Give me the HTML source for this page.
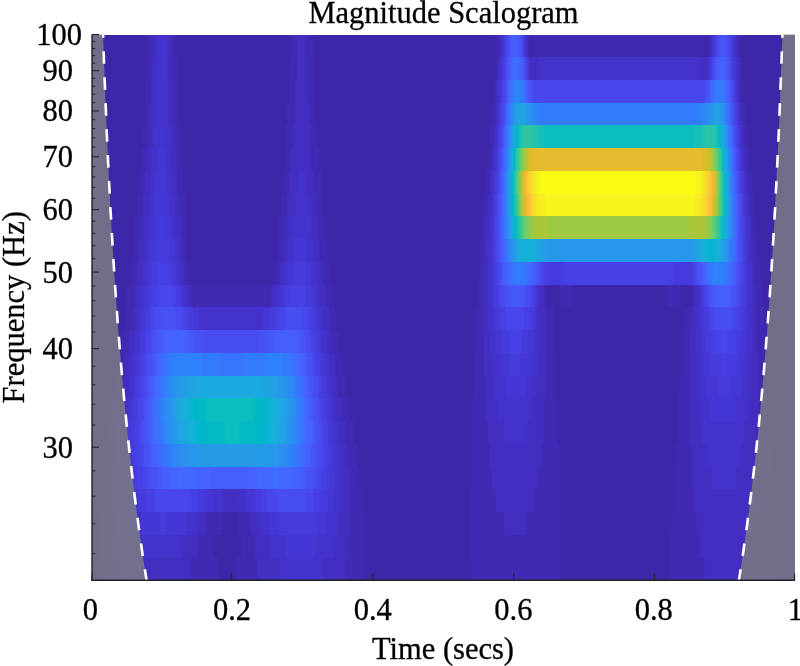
<!DOCTYPE html>
<html><head><meta charset="utf-8"><title>Magnitude Scalogram</title>
<style>
html,body{margin:0;padding:0;background:#fff;}
body{width:800px;height:666px;position:relative;overflow:hidden;font-family:"Liberation Serif","Times New Roman",serif;}
#plot{position:absolute;left:92.0px;top:34.5px;width:703.0px;height:545.8px;overflow:hidden;background:#3e26a8;}
.r{position:absolute;left:0;width:100%;}
svg{position:absolute;left:0;top:0;}
svg text{font-family:"Liberation Serif","Times New Roman",serif;font-size:30.5px;fill:#000;stroke:#000;stroke-width:0.3px;}
svg line{stroke:#222226;stroke-width:1.1;}
</style></head><body>
<div id="plot">
<div class="r" style="top:0.00px;height:23.04px;background:linear-gradient(90deg,#3e26a8,#3e26a8,#3e26a8,#3e26a8,#3e26a8,#3e26a8,#3e26a8,#3e26a8,#3e26a8,#3e26a8,#3e26a8,#3e26a8,#3e26a8,#3e26a8,#3e26a8,#3e26a8,#3e26a8,#3e26a8,#3e26a8,#3e26a8,#3e26a8,#3e26a8,#3e26a8,#3e26a8,#3e26a8,#3e26a8,#3e26a8,#3e26a8,#402ab4,#402ab4,#402ab4,#422ec0,#422ec0,#4332cb,#4332cb,#4332cb,#4332cb,#4332cb,#422ec0,#422ec0,#402ab4,#402ab4,#3e26a8,#3e26a8,#3e26a8,#3e26a8,#3e26a8,#3e26a8,#3e26a8,#3e26a8,#3e26a8,#3e26a8,#3e26a8,#3e26a8,#3e26a8,#3e26a8,#3e26a8,#3e26a8,#3e26a8,#3e26a8,#3e26a8,#3e26a8,#3e26a8,#3e26a8,#3e26a8,#3e26a8,#3e26a8,#3e26a8,#3e26a8,#3e26a8,#3e26a8,#3e26a8,#3e26a8,#3e26a8,#3e26a8,#3e26a8,#3e26a8,#3e26a8,#3e26a8,#3e26a8,#3e26a8,#3e26a8,#3e26a8,#3e26a8,#3e26a8,#3e26a8,#3e26a8,#3e26a8,#3e26a8,#3e26a8,#3e26a8,#3e26a8,#3e26a8,#3e26a8,#3e26a8,#3e26a8,#3e26a8,#3e26a8,#3e26a8,#3e26a8,#402ab4,#402ab4,#402ab4,#422ec0,#422ec0,#422ec0,#422ec0,#402ab4,#402ab4,#402ab4,#402ab4,#3e26a8,#3e26a8,#3e26a8,#3e26a8,#3e26a8,#3e26a8,#3e26a8,#3e26a8,#3e26a8,#3e26a8,#3e26a8,#3e26a8,#3e26a8,#3e26a8,#3e26a8,#3e26a8,#3e26a8,#3e26a8,#3e26a8,#3e26a8,#3e26a8,#3e26a8,#3e26a8,#3e26a8,#3e26a8,#3e26a8,#3e26a8,#3e26a8,#3e26a8,#3e26a8,#3e26a8,#3e26a8,#3e26a8,#3e26a8,#3e26a8,#3e26a8,#3e26a8,#3e26a8,#3e26a8,#3e26a8,#3e26a8,#3e26a8,#3e26a8,#3e26a8,#3e26a8,#3e26a8,#3e26a8,#3e26a8,#3e26a8,#3e26a8,#3e26a8,#3e26a8,#3e26a8,#3e26a8,#3e26a8,#3e26a8,#3e26a8,#3e26a8,#3e26a8,#3e26a8,#3e26a8,#3e26a8,#3e26a8,#3e26a8,#3e26a8,#3e26a8,#3e26a8,#3e26a8,#3e26a8,#3e26a8,#3e26a8,#3e26a8,#3e26a8,#3e26a8,#3e26a8,#3e26a8,#3e26a8,#3e26a8,#3e26a8,#3e26a8,#3e26a8,#3e26a8,#3e26a8,#3e26a8,#3e26a8,#3e26a8,#3e26a8,#3e26a8,#3e26a8,#3e26a8,#3e26a8,#402ab4,#402ab4,#422ec0,#4332cb,#463cde,#4747eb,#484df0,#4758f8,#465efb,#465efb,#465efb,#4758f8,#4852f4,#4747eb,#4537d5,#4332cb,#402ab4,#3e26a8,#3e26a8,#402ab4,#402ab4,#402ab4,#402ab4,#402ab4,#402ab4,#402ab4,#402ab4,#402ab4,#402ab4,#402ab4,#402ab4,#402ab4,#402ab4,#402ab4,#402ab4,#402ab4,#402ab4,#402ab4,#402ab4,#402ab4,#402ab4,#402ab4,#402ab4,#402ab4,#402ab4,#402ab4,#402ab4,#402ab4,#402ab4,#402ab4,#402ab4,#402ab4,#402ab4,#402ab4,#402ab4,#402ab4,#402ab4,#402ab4,#402ab4,#402ab4,#402ab4,#402ab4,#402ab4,#402ab4,#402ab4,#402ab4,#402ab4,#402ab4,#402ab4,#402ab4,#402ab4,#402ab4,#402ab4,#402ab4,#402ab4,#402ab4,#402ab4,#402ab4,#402ab4,#402ab4,#402ab4,#402ab4,#402ab4,#402ab4,#402ab4,#402ab4,#402ab4,#402ab4,#402ab4,#402ab4,#402ab4,#402ab4,#402ab4,#402ab4,#402ab4,#402ab4,#402ab4,#402ab4,#402ab4,#402ab4,#402ab4,#402ab4,#402ab4,#402ab4,#3e26a8,#3e26a8,#402ab4,#422ec0,#4537d5,#463cde,#4747eb,#484df0,#4852f4,#4758f8,#4852f4,#484df0,#4747eb,#4741e5,#4537d5,#4332cb,#422ec0,#402ab4,#3e26a8,#3e26a8,#3e26a8,#3e26a8,#3e26a8,#3e26a8,#3e26a8,#3e26a8,#3e26a8,#3e26a8,#3e26a8,#3e26a8,#3e26a8,#3e26a8,#3e26a8,#3e26a8,#3e26a8,#3e26a8,#3e26a8,#3e26a8,#3e26a8,#3e26a8,#3e26a8,#3e26a8,#3e26a8,#3e26a8,#3e26a8,#3e26a8)"></div>
<div class="r" style="top:22.74px;height:23.04px;background:linear-gradient(90deg,#3e26a8,#3e26a8,#3e26a8,#3e26a8,#3e26a8,#3e26a8,#3e26a8,#3e26a8,#3e26a8,#3e26a8,#3e26a8,#3e26a8,#3e26a8,#3e26a8,#3e26a8,#3e26a8,#3e26a8,#3e26a8,#3e26a8,#3e26a8,#3e26a8,#3e26a8,#3e26a8,#3e26a8,#3e26a8,#3e26a8,#3e26a8,#3e26a8,#402ab4,#402ab4,#422ec0,#422ec0,#4332cb,#4332cb,#4332cb,#4332cb,#4332cb,#4332cb,#422ec0,#422ec0,#402ab4,#402ab4,#402ab4,#3e26a8,#3e26a8,#3e26a8,#3e26a8,#3e26a8,#3e26a8,#3e26a8,#3e26a8,#3e26a8,#3e26a8,#3e26a8,#3e26a8,#3e26a8,#3e26a8,#3e26a8,#3e26a8,#3e26a8,#3e26a8,#3e26a8,#3e26a8,#3e26a8,#3e26a8,#3e26a8,#3e26a8,#3e26a8,#3e26a8,#3e26a8,#3e26a8,#3e26a8,#3e26a8,#3e26a8,#3e26a8,#3e26a8,#3e26a8,#3e26a8,#3e26a8,#3e26a8,#3e26a8,#3e26a8,#3e26a8,#3e26a8,#3e26a8,#3e26a8,#3e26a8,#3e26a8,#3e26a8,#3e26a8,#3e26a8,#3e26a8,#3e26a8,#3e26a8,#3e26a8,#3e26a8,#3e26a8,#3e26a8,#3e26a8,#402ab4,#402ab4,#402ab4,#402ab4,#422ec0,#422ec0,#422ec0,#422ec0,#422ec0,#402ab4,#402ab4,#402ab4,#3e26a8,#3e26a8,#3e26a8,#3e26a8,#3e26a8,#3e26a8,#3e26a8,#3e26a8,#3e26a8,#3e26a8,#3e26a8,#3e26a8,#3e26a8,#3e26a8,#3e26a8,#3e26a8,#3e26a8,#3e26a8,#3e26a8,#3e26a8,#3e26a8,#3e26a8,#3e26a8,#3e26a8,#3e26a8,#3e26a8,#3e26a8,#3e26a8,#3e26a8,#3e26a8,#3e26a8,#3e26a8,#3e26a8,#3e26a8,#3e26a8,#3e26a8,#3e26a8,#3e26a8,#3e26a8,#3e26a8,#3e26a8,#3e26a8,#3e26a8,#3e26a8,#3e26a8,#3e26a8,#3e26a8,#3e26a8,#3e26a8,#3e26a8,#3e26a8,#3e26a8,#3e26a8,#3e26a8,#3e26a8,#3e26a8,#3e26a8,#3e26a8,#3e26a8,#3e26a8,#3e26a8,#3e26a8,#3e26a8,#3e26a8,#3e26a8,#3e26a8,#3e26a8,#3e26a8,#3e26a8,#3e26a8,#3e26a8,#3e26a8,#3e26a8,#3e26a8,#3e26a8,#3e26a8,#3e26a8,#3e26a8,#3e26a8,#3e26a8,#3e26a8,#3e26a8,#3e26a8,#3e26a8,#3e26a8,#3e26a8,#3e26a8,#3e26a8,#3e26a8,#3e26a8,#3e26a8,#402ab4,#422ec0,#4332cb,#4537d5,#4741e5,#484df0,#4758f8,#465efb,#4269fe,#3e6fff,#3e6fff,#4269fe,#4563fd,#4758f8,#484df0,#4741e5,#4537d5,#422ec0,#422ec0,#422ec0,#422ec0,#4332cb,#4332cb,#4332cb,#4332cb,#4332cb,#4332cb,#4332cb,#4332cb,#4332cb,#4332cb,#4332cb,#4332cb,#4332cb,#4332cb,#4332cb,#4332cb,#4332cb,#4332cb,#4332cb,#4332cb,#4332cb,#4332cb,#4332cb,#4332cb,#4332cb,#4332cb,#4332cb,#4332cb,#4332cb,#4332cb,#4332cb,#4332cb,#4332cb,#4332cb,#4332cb,#4332cb,#4332cb,#4332cb,#4332cb,#4332cb,#4332cb,#4332cb,#4332cb,#4332cb,#4332cb,#4332cb,#4332cb,#4332cb,#4332cb,#4332cb,#4332cb,#4332cb,#4332cb,#4332cb,#4332cb,#4332cb,#4332cb,#4332cb,#4332cb,#4332cb,#4332cb,#4332cb,#4332cb,#4332cb,#4332cb,#4332cb,#4332cb,#4332cb,#4332cb,#4332cb,#4332cb,#4332cb,#4332cb,#4332cb,#4332cb,#4332cb,#4332cb,#4332cb,#4332cb,#4332cb,#4332cb,#422ec0,#422ec0,#422ec0,#422ec0,#4537d5,#463cde,#4747eb,#4852f4,#4758f8,#4563fd,#4563fd,#4563fd,#465efb,#4758f8,#4852f4,#4747eb,#463cde,#4537d5,#4332cb,#422ec0,#402ab4,#3e26a8,#3e26a8,#3e26a8,#3e26a8,#3e26a8,#3e26a8,#3e26a8,#3e26a8,#3e26a8,#3e26a8,#3e26a8,#3e26a8,#3e26a8,#3e26a8,#3e26a8,#3e26a8,#3e26a8,#3e26a8,#3e26a8,#3e26a8,#3e26a8,#3e26a8,#3e26a8,#3e26a8,#3e26a8,#3e26a8,#3e26a8)"></div>
<div class="r" style="top:45.48px;height:23.04px;background:linear-gradient(90deg,#3e26a8,#3e26a8,#3e26a8,#3e26a8,#3e26a8,#3e26a8,#3e26a8,#3e26a8,#3e26a8,#3e26a8,#3e26a8,#3e26a8,#3e26a8,#3e26a8,#3e26a8,#3e26a8,#3e26a8,#3e26a8,#3e26a8,#3e26a8,#3e26a8,#3e26a8,#3e26a8,#3e26a8,#3e26a8,#3e26a8,#3e26a8,#402ab4,#402ab4,#402ab4,#422ec0,#422ec0,#4332cb,#4332cb,#4332cb,#4332cb,#4332cb,#4332cb,#4332cb,#422ec0,#422ec0,#402ab4,#402ab4,#3e26a8,#3e26a8,#3e26a8,#3e26a8,#3e26a8,#3e26a8,#3e26a8,#3e26a8,#3e26a8,#3e26a8,#3e26a8,#3e26a8,#3e26a8,#3e26a8,#3e26a8,#3e26a8,#3e26a8,#3e26a8,#3e26a8,#3e26a8,#3e26a8,#3e26a8,#3e26a8,#3e26a8,#3e26a8,#3e26a8,#3e26a8,#3e26a8,#3e26a8,#3e26a8,#3e26a8,#3e26a8,#3e26a8,#3e26a8,#3e26a8,#3e26a8,#3e26a8,#3e26a8,#3e26a8,#3e26a8,#3e26a8,#3e26a8,#3e26a8,#3e26a8,#3e26a8,#3e26a8,#3e26a8,#3e26a8,#3e26a8,#3e26a8,#3e26a8,#3e26a8,#3e26a8,#3e26a8,#3e26a8,#3e26a8,#402ab4,#402ab4,#402ab4,#422ec0,#422ec0,#422ec0,#422ec0,#422ec0,#422ec0,#402ab4,#402ab4,#402ab4,#402ab4,#3e26a8,#3e26a8,#3e26a8,#3e26a8,#3e26a8,#3e26a8,#3e26a8,#3e26a8,#3e26a8,#3e26a8,#3e26a8,#3e26a8,#3e26a8,#3e26a8,#3e26a8,#3e26a8,#3e26a8,#3e26a8,#3e26a8,#3e26a8,#3e26a8,#3e26a8,#3e26a8,#3e26a8,#3e26a8,#3e26a8,#3e26a8,#3e26a8,#3e26a8,#3e26a8,#3e26a8,#3e26a8,#3e26a8,#3e26a8,#3e26a8,#3e26a8,#3e26a8,#3e26a8,#3e26a8,#3e26a8,#3e26a8,#3e26a8,#3e26a8,#3e26a8,#3e26a8,#3e26a8,#3e26a8,#3e26a8,#3e26a8,#3e26a8,#3e26a8,#3e26a8,#3e26a8,#3e26a8,#3e26a8,#3e26a8,#3e26a8,#3e26a8,#3e26a8,#3e26a8,#3e26a8,#3e26a8,#3e26a8,#3e26a8,#3e26a8,#3e26a8,#3e26a8,#3e26a8,#3e26a8,#3e26a8,#3e26a8,#3e26a8,#3e26a8,#3e26a8,#3e26a8,#3e26a8,#3e26a8,#3e26a8,#3e26a8,#3e26a8,#3e26a8,#3e26a8,#3e26a8,#3e26a8,#3e26a8,#3e26a8,#3e26a8,#3e26a8,#3e26a8,#402ab4,#422ec0,#4332cb,#4537d5,#4741e5,#4747eb,#4852f4,#4563fd,#3e6fff,#327cfc,#2f81fa,#2e87f7,#2e87f7,#2f81fa,#327cfc,#3e6fff,#4563fd,#4758f8,#4852f4,#484df0,#4747eb,#4747eb,#4747eb,#4747eb,#4747eb,#4747eb,#4747eb,#4747eb,#4747eb,#4747eb,#4747eb,#4747eb,#4747eb,#4747eb,#4747eb,#4747eb,#4747eb,#4747eb,#4747eb,#4747eb,#4747eb,#4747eb,#4747eb,#4747eb,#4747eb,#4747eb,#4747eb,#4747eb,#4747eb,#4747eb,#4747eb,#4747eb,#4747eb,#4747eb,#4747eb,#4747eb,#4747eb,#4747eb,#4747eb,#4747eb,#4747eb,#4747eb,#4747eb,#4747eb,#4747eb,#4747eb,#4747eb,#4747eb,#4747eb,#4747eb,#4747eb,#4747eb,#4747eb,#4747eb,#4747eb,#4747eb,#4747eb,#4747eb,#4747eb,#4747eb,#4747eb,#4747eb,#4747eb,#4747eb,#4747eb,#4747eb,#4747eb,#4747eb,#4747eb,#4747eb,#4747eb,#4747eb,#4747eb,#4747eb,#4747eb,#4747eb,#4747eb,#4747eb,#4747eb,#4747eb,#4747eb,#4747eb,#4747eb,#4747eb,#4747eb,#484df0,#4852f4,#4758f8,#4563fd,#4269fe,#3875fe,#327cfc,#327cfc,#327cfc,#327cfc,#3e6fff,#4269fe,#465efb,#4852f4,#4747eb,#463cde,#4537d5,#422ec0,#402ab4,#402ab4,#3e26a8,#3e26a8,#3e26a8,#3e26a8,#3e26a8,#3e26a8,#3e26a8,#3e26a8,#3e26a8,#3e26a8,#3e26a8,#3e26a8,#3e26a8,#3e26a8,#3e26a8,#3e26a8,#3e26a8,#3e26a8,#3e26a8,#3e26a8,#3e26a8,#3e26a8,#3e26a8,#3e26a8,#3e26a8,#3e26a8)"></div>
<div class="r" style="top:68.22px;height:23.04px;background:linear-gradient(90deg,#3e26a8,#3e26a8,#3e26a8,#3e26a8,#3e26a8,#3e26a8,#3e26a8,#3e26a8,#3e26a8,#3e26a8,#3e26a8,#3e26a8,#3e26a8,#3e26a8,#3e26a8,#3e26a8,#3e26a8,#3e26a8,#3e26a8,#3e26a8,#3e26a8,#3e26a8,#3e26a8,#3e26a8,#3e26a8,#3e26a8,#3e26a8,#402ab4,#402ab4,#422ec0,#422ec0,#422ec0,#4332cb,#4332cb,#4332cb,#4332cb,#4332cb,#4332cb,#4332cb,#422ec0,#422ec0,#402ab4,#402ab4,#402ab4,#3e26a8,#3e26a8,#3e26a8,#3e26a8,#3e26a8,#3e26a8,#3e26a8,#3e26a8,#3e26a8,#3e26a8,#3e26a8,#3e26a8,#3e26a8,#3e26a8,#3e26a8,#3e26a8,#3e26a8,#3e26a8,#3e26a8,#3e26a8,#3e26a8,#3e26a8,#3e26a8,#3e26a8,#3e26a8,#3e26a8,#3e26a8,#3e26a8,#3e26a8,#3e26a8,#3e26a8,#3e26a8,#3e26a8,#3e26a8,#3e26a8,#3e26a8,#3e26a8,#3e26a8,#3e26a8,#3e26a8,#3e26a8,#3e26a8,#3e26a8,#3e26a8,#3e26a8,#3e26a8,#3e26a8,#3e26a8,#3e26a8,#3e26a8,#3e26a8,#3e26a8,#3e26a8,#3e26a8,#402ab4,#402ab4,#402ab4,#402ab4,#422ec0,#422ec0,#422ec0,#422ec0,#422ec0,#422ec0,#422ec0,#402ab4,#402ab4,#402ab4,#3e26a8,#3e26a8,#3e26a8,#3e26a8,#3e26a8,#3e26a8,#3e26a8,#3e26a8,#3e26a8,#3e26a8,#3e26a8,#3e26a8,#3e26a8,#3e26a8,#3e26a8,#3e26a8,#3e26a8,#3e26a8,#3e26a8,#3e26a8,#3e26a8,#3e26a8,#3e26a8,#3e26a8,#3e26a8,#3e26a8,#3e26a8,#3e26a8,#3e26a8,#3e26a8,#3e26a8,#3e26a8,#3e26a8,#3e26a8,#3e26a8,#3e26a8,#3e26a8,#3e26a8,#3e26a8,#3e26a8,#3e26a8,#3e26a8,#3e26a8,#3e26a8,#3e26a8,#3e26a8,#3e26a8,#3e26a8,#3e26a8,#3e26a8,#3e26a8,#3e26a8,#3e26a8,#3e26a8,#3e26a8,#3e26a8,#3e26a8,#3e26a8,#3e26a8,#3e26a8,#3e26a8,#3e26a8,#3e26a8,#3e26a8,#3e26a8,#3e26a8,#3e26a8,#3e26a8,#3e26a8,#3e26a8,#3e26a8,#3e26a8,#3e26a8,#3e26a8,#3e26a8,#3e26a8,#3e26a8,#3e26a8,#3e26a8,#3e26a8,#3e26a8,#3e26a8,#3e26a8,#3e26a8,#3e26a8,#3e26a8,#3e26a8,#3e26a8,#402ab4,#402ab4,#422ec0,#4537d5,#463cde,#4747eb,#4852f4,#465efb,#3e6fff,#2f81fa,#2d8cf3,#2797eb,#23a0e5,#20a5e3,#20a5e3,#20a5e3,#23a0e5,#259be8,#2797eb,#2b91ef,#2d8cf3,#2e87f7,#2f81fa,#2f81fa,#327cfc,#327cfc,#327cfc,#327cfc,#327cfc,#327cfc,#327cfc,#327cfc,#327cfc,#327cfc,#327cfc,#327cfc,#327cfc,#327cfc,#327cfc,#327cfc,#327cfc,#327cfc,#327cfc,#327cfc,#327cfc,#327cfc,#327cfc,#327cfc,#327cfc,#327cfc,#327cfc,#327cfc,#327cfc,#327cfc,#327cfc,#327cfc,#327cfc,#327cfc,#327cfc,#327cfc,#327cfc,#327cfc,#327cfc,#327cfc,#327cfc,#327cfc,#327cfc,#327cfc,#327cfc,#327cfc,#327cfc,#327cfc,#327cfc,#327cfc,#327cfc,#327cfc,#327cfc,#327cfc,#327cfc,#327cfc,#327cfc,#327cfc,#327cfc,#327cfc,#327cfc,#327cfc,#327cfc,#327cfc,#327cfc,#327cfc,#327cfc,#327cfc,#327cfc,#327cfc,#327cfc,#327cfc,#327cfc,#327cfc,#327cfc,#327cfc,#327cfc,#327cfc,#327cfc,#2f81fa,#2f81fa,#2e87f7,#2e87f7,#2d8cf3,#2b91ef,#2797eb,#259be8,#23a0e5,#23a0e5,#23a0e5,#259be8,#2b91ef,#2e87f7,#327cfc,#4269fe,#465efb,#4852f4,#4747eb,#463cde,#4332cb,#422ec0,#402ab4,#402ab4,#3e26a8,#3e26a8,#3e26a8,#3e26a8,#3e26a8,#3e26a8,#3e26a8,#3e26a8,#3e26a8,#3e26a8,#3e26a8,#3e26a8,#3e26a8,#3e26a8,#3e26a8,#3e26a8,#3e26a8,#3e26a8,#3e26a8,#3e26a8,#3e26a8,#3e26a8,#3e26a8,#3e26a8,#3e26a8)"></div>
<div class="r" style="top:90.97px;height:23.04px;background:linear-gradient(90deg,#3e26a8,#3e26a8,#3e26a8,#3e26a8,#3e26a8,#3e26a8,#3e26a8,#3e26a8,#3e26a8,#3e26a8,#3e26a8,#3e26a8,#3e26a8,#3e26a8,#3e26a8,#3e26a8,#3e26a8,#3e26a8,#3e26a8,#3e26a8,#3e26a8,#3e26a8,#3e26a8,#3e26a8,#3e26a8,#3e26a8,#402ab4,#402ab4,#402ab4,#422ec0,#422ec0,#4332cb,#4332cb,#4332cb,#4332cb,#4537d5,#4332cb,#4332cb,#4332cb,#4332cb,#422ec0,#422ec0,#402ab4,#402ab4,#402ab4,#3e26a8,#3e26a8,#3e26a8,#3e26a8,#3e26a8,#3e26a8,#3e26a8,#3e26a8,#3e26a8,#3e26a8,#3e26a8,#3e26a8,#3e26a8,#3e26a8,#3e26a8,#3e26a8,#3e26a8,#3e26a8,#3e26a8,#3e26a8,#3e26a8,#3e26a8,#3e26a8,#3e26a8,#3e26a8,#3e26a8,#3e26a8,#3e26a8,#3e26a8,#3e26a8,#3e26a8,#3e26a8,#3e26a8,#3e26a8,#3e26a8,#3e26a8,#3e26a8,#3e26a8,#3e26a8,#3e26a8,#3e26a8,#3e26a8,#3e26a8,#3e26a8,#3e26a8,#3e26a8,#3e26a8,#3e26a8,#3e26a8,#3e26a8,#3e26a8,#3e26a8,#402ab4,#402ab4,#402ab4,#402ab4,#422ec0,#422ec0,#422ec0,#422ec0,#422ec0,#422ec0,#422ec0,#422ec0,#422ec0,#402ab4,#402ab4,#402ab4,#3e26a8,#3e26a8,#3e26a8,#3e26a8,#3e26a8,#3e26a8,#3e26a8,#3e26a8,#3e26a8,#3e26a8,#3e26a8,#3e26a8,#3e26a8,#3e26a8,#3e26a8,#3e26a8,#3e26a8,#3e26a8,#3e26a8,#3e26a8,#3e26a8,#3e26a8,#3e26a8,#3e26a8,#3e26a8,#3e26a8,#3e26a8,#3e26a8,#3e26a8,#3e26a8,#3e26a8,#3e26a8,#3e26a8,#3e26a8,#3e26a8,#3e26a8,#3e26a8,#3e26a8,#3e26a8,#3e26a8,#3e26a8,#3e26a8,#3e26a8,#3e26a8,#3e26a8,#3e26a8,#3e26a8,#3e26a8,#3e26a8,#3e26a8,#3e26a8,#3e26a8,#3e26a8,#3e26a8,#3e26a8,#3e26a8,#3e26a8,#3e26a8,#3e26a8,#3e26a8,#3e26a8,#3e26a8,#3e26a8,#3e26a8,#3e26a8,#3e26a8,#3e26a8,#3e26a8,#3e26a8,#3e26a8,#3e26a8,#3e26a8,#3e26a8,#3e26a8,#3e26a8,#3e26a8,#3e26a8,#3e26a8,#3e26a8,#3e26a8,#3e26a8,#3e26a8,#3e26a8,#3e26a8,#3e26a8,#3e26a8,#402ab4,#402ab4,#422ec0,#4332cb,#463cde,#4741e5,#484df0,#465efb,#3e6fff,#2f81fa,#2b91ef,#23a0e5,#18addb,#08b5d0,#0bbdbd,#19bfb6,#2cc4a7,#2cc4a7,#31c69f,#31c69f,#2cc4a7,#2cc4a7,#24c1ae,#24c1ae,#19bfb6,#19bfb6,#19bfb6,#0bbdbd,#0bbdbd,#0bbdbd,#0bbdbd,#0bbdbd,#0bbdbd,#0bbdbd,#0bbdbd,#0bbdbd,#0bbdbd,#0bbdbd,#0bbdbd,#0bbdbd,#0bbdbd,#0bbdbd,#0bbdbd,#0bbdbd,#0bbdbd,#0bbdbd,#0bbdbd,#0bbdbd,#0bbdbd,#0bbdbd,#0bbdbd,#0bbdbd,#0bbdbd,#0bbdbd,#0bbdbd,#0bbdbd,#0bbdbd,#0bbdbd,#0bbdbd,#0bbdbd,#0bbdbd,#0bbdbd,#0bbdbd,#0bbdbd,#0bbdbd,#0bbdbd,#0bbdbd,#0bbdbd,#0bbdbd,#0bbdbd,#0bbdbd,#0bbdbd,#0bbdbd,#0bbdbd,#0bbdbd,#0bbdbd,#0bbdbd,#0bbdbd,#0bbdbd,#0bbdbd,#0bbdbd,#0bbdbd,#0bbdbd,#0bbdbd,#0bbdbd,#0bbdbd,#0bbdbd,#0bbdbd,#0bbdbd,#0bbdbd,#0bbdbd,#0bbdbd,#0bbdbd,#0bbdbd,#0bbdbd,#0bbdbd,#0bbdbd,#0bbdbd,#0bbdbd,#0bbdbd,#0bbdbd,#0bbdbd,#19bfb6,#19bfb6,#19bfb6,#19bfb6,#24c1ae,#24c1ae,#2cc4a7,#2cc4a7,#2cc4a7,#2cc4a7,#24c1ae,#19bfb6,#02bac3,#08b5d0,#1ca9df,#259be8,#2d8cf3,#327cfc,#3e6fff,#465efb,#484df0,#4741e5,#463cde,#4332cb,#422ec0,#402ab4,#402ab4,#3e26a8,#3e26a8,#3e26a8,#3e26a8,#3e26a8,#3e26a8,#3e26a8,#3e26a8,#3e26a8,#3e26a8,#3e26a8,#3e26a8,#3e26a8,#3e26a8,#3e26a8,#3e26a8,#3e26a8,#3e26a8,#3e26a8,#3e26a8,#3e26a8,#3e26a8,#3e26a8,#3e26a8)"></div>
<div class="r" style="top:113.71px;height:23.04px;background:linear-gradient(90deg,#3e26a8,#3e26a8,#3e26a8,#3e26a8,#3e26a8,#3e26a8,#3e26a8,#3e26a8,#3e26a8,#3e26a8,#3e26a8,#3e26a8,#3e26a8,#3e26a8,#3e26a8,#3e26a8,#3e26a8,#3e26a8,#3e26a8,#3e26a8,#3e26a8,#3e26a8,#3e26a8,#3e26a8,#3e26a8,#402ab4,#402ab4,#402ab4,#422ec0,#422ec0,#4332cb,#4332cb,#4332cb,#4537d5,#4537d5,#4537d5,#4537d5,#4332cb,#4332cb,#4332cb,#422ec0,#422ec0,#422ec0,#402ab4,#402ab4,#3e26a8,#3e26a8,#3e26a8,#3e26a8,#3e26a8,#3e26a8,#3e26a8,#3e26a8,#3e26a8,#3e26a8,#3e26a8,#3e26a8,#3e26a8,#3e26a8,#3e26a8,#3e26a8,#3e26a8,#3e26a8,#3e26a8,#3e26a8,#3e26a8,#3e26a8,#3e26a8,#3e26a8,#3e26a8,#3e26a8,#3e26a8,#3e26a8,#3e26a8,#3e26a8,#3e26a8,#3e26a8,#3e26a8,#3e26a8,#3e26a8,#3e26a8,#3e26a8,#3e26a8,#3e26a8,#3e26a8,#3e26a8,#3e26a8,#3e26a8,#3e26a8,#3e26a8,#3e26a8,#3e26a8,#3e26a8,#3e26a8,#3e26a8,#3e26a8,#3e26a8,#402ab4,#402ab4,#402ab4,#422ec0,#422ec0,#422ec0,#422ec0,#422ec0,#422ec0,#422ec0,#422ec0,#422ec0,#422ec0,#402ab4,#402ab4,#402ab4,#402ab4,#3e26a8,#3e26a8,#3e26a8,#3e26a8,#3e26a8,#3e26a8,#3e26a8,#3e26a8,#3e26a8,#3e26a8,#3e26a8,#3e26a8,#3e26a8,#3e26a8,#3e26a8,#3e26a8,#3e26a8,#3e26a8,#3e26a8,#3e26a8,#3e26a8,#3e26a8,#3e26a8,#3e26a8,#3e26a8,#3e26a8,#3e26a8,#3e26a8,#3e26a8,#3e26a8,#3e26a8,#3e26a8,#3e26a8,#3e26a8,#3e26a8,#3e26a8,#3e26a8,#3e26a8,#3e26a8,#3e26a8,#3e26a8,#3e26a8,#3e26a8,#3e26a8,#3e26a8,#3e26a8,#3e26a8,#3e26a8,#3e26a8,#3e26a8,#3e26a8,#3e26a8,#3e26a8,#3e26a8,#3e26a8,#3e26a8,#3e26a8,#3e26a8,#3e26a8,#3e26a8,#3e26a8,#3e26a8,#3e26a8,#3e26a8,#3e26a8,#3e26a8,#3e26a8,#3e26a8,#3e26a8,#3e26a8,#3e26a8,#3e26a8,#3e26a8,#3e26a8,#3e26a8,#3e26a8,#3e26a8,#3e26a8,#3e26a8,#3e26a8,#3e26a8,#3e26a8,#3e26a8,#3e26a8,#402ab4,#402ab4,#422ec0,#4332cb,#4537d5,#4741e5,#484df0,#4758f8,#4269fe,#327cfc,#2d8cf3,#23a0e5,#18addb,#02bac3,#2cc4a7,#3fca8e,#64cd6f,#81cc59,#9dc943,#b9c431,#d1bf27,#dcbd29,#dcbd29,#e6bb2d,#e6bb2d,#e6bb2d,#e6bb2d,#e6bb2d,#e6bb2d,#e6bb2d,#e6bb2d,#e6bb2d,#e6bb2d,#e6bb2d,#e6bb2d,#e6bb2d,#e6bb2d,#e6bb2d,#e6bb2d,#e6bb2d,#e6bb2d,#e6bb2d,#e6bb2d,#e6bb2d,#e6bb2d,#e6bb2d,#e6bb2d,#e6bb2d,#e6bb2d,#e6bb2d,#e6bb2d,#e6bb2d,#e6bb2d,#e6bb2d,#e6bb2d,#e6bb2d,#e6bb2d,#e6bb2d,#e6bb2d,#e6bb2d,#e6bb2d,#e6bb2d,#e6bb2d,#e6bb2d,#e6bb2d,#e6bb2d,#e6bb2d,#e6bb2d,#e6bb2d,#e6bb2d,#e6bb2d,#e6bb2d,#e6bb2d,#e6bb2d,#e6bb2d,#e6bb2d,#e6bb2d,#e6bb2d,#e6bb2d,#e6bb2d,#e6bb2d,#e6bb2d,#e6bb2d,#e6bb2d,#e6bb2d,#e6bb2d,#e6bb2d,#e6bb2d,#e6bb2d,#e6bb2d,#e6bb2d,#e6bb2d,#e6bb2d,#e6bb2d,#e6bb2d,#e6bb2d,#e6bb2d,#e6bb2d,#e6bb2d,#e6bb2d,#e6bb2d,#e6bb2d,#e6bb2d,#e6bb2d,#e6bb2d,#e6bb2d,#e6bb2d,#dcbd29,#dcbd29,#d1bf27,#c5c22a,#b9c431,#9dc943,#81cc59,#64cd6f,#3fca8e,#2cc4a7,#02bac3,#12b1d6,#23a0e5,#2d8cf3,#327cfc,#4269fe,#4758f8,#484df0,#4741e5,#4537d5,#4332cb,#422ec0,#402ab4,#402ab4,#3e26a8,#3e26a8,#3e26a8,#3e26a8,#3e26a8,#3e26a8,#3e26a8,#3e26a8,#3e26a8,#3e26a8,#3e26a8,#3e26a8,#3e26a8,#3e26a8,#3e26a8,#3e26a8,#3e26a8,#3e26a8,#3e26a8,#3e26a8,#3e26a8,#3e26a8,#3e26a8)"></div>
<div class="r" style="top:136.45px;height:23.04px;background:linear-gradient(90deg,#3e26a8,#3e26a8,#3e26a8,#3e26a8,#3e26a8,#3e26a8,#3e26a8,#3e26a8,#3e26a8,#3e26a8,#3e26a8,#3e26a8,#3e26a8,#3e26a8,#3e26a8,#3e26a8,#3e26a8,#3e26a8,#3e26a8,#3e26a8,#3e26a8,#3e26a8,#3e26a8,#3e26a8,#402ab4,#402ab4,#402ab4,#422ec0,#422ec0,#422ec0,#4332cb,#4332cb,#4537d5,#4537d5,#4537d5,#4537d5,#4537d5,#4537d5,#4332cb,#4332cb,#4332cb,#422ec0,#422ec0,#402ab4,#402ab4,#402ab4,#3e26a8,#3e26a8,#3e26a8,#3e26a8,#3e26a8,#3e26a8,#3e26a8,#3e26a8,#3e26a8,#3e26a8,#3e26a8,#3e26a8,#3e26a8,#3e26a8,#3e26a8,#3e26a8,#3e26a8,#3e26a8,#3e26a8,#3e26a8,#3e26a8,#3e26a8,#3e26a8,#3e26a8,#3e26a8,#3e26a8,#3e26a8,#3e26a8,#3e26a8,#3e26a8,#3e26a8,#3e26a8,#3e26a8,#3e26a8,#3e26a8,#3e26a8,#3e26a8,#3e26a8,#3e26a8,#3e26a8,#3e26a8,#3e26a8,#3e26a8,#3e26a8,#3e26a8,#3e26a8,#3e26a8,#3e26a8,#3e26a8,#3e26a8,#402ab4,#402ab4,#402ab4,#422ec0,#422ec0,#422ec0,#422ec0,#4332cb,#4332cb,#4332cb,#4332cb,#422ec0,#422ec0,#422ec0,#422ec0,#402ab4,#402ab4,#402ab4,#402ab4,#3e26a8,#3e26a8,#3e26a8,#3e26a8,#3e26a8,#3e26a8,#3e26a8,#3e26a8,#3e26a8,#3e26a8,#3e26a8,#3e26a8,#3e26a8,#3e26a8,#3e26a8,#3e26a8,#3e26a8,#3e26a8,#3e26a8,#3e26a8,#3e26a8,#3e26a8,#3e26a8,#3e26a8,#3e26a8,#3e26a8,#3e26a8,#3e26a8,#3e26a8,#3e26a8,#3e26a8,#3e26a8,#3e26a8,#3e26a8,#3e26a8,#3e26a8,#3e26a8,#3e26a8,#3e26a8,#3e26a8,#3e26a8,#3e26a8,#3e26a8,#3e26a8,#3e26a8,#3e26a8,#3e26a8,#3e26a8,#3e26a8,#3e26a8,#3e26a8,#3e26a8,#3e26a8,#3e26a8,#3e26a8,#3e26a8,#3e26a8,#3e26a8,#3e26a8,#3e26a8,#3e26a8,#3e26a8,#3e26a8,#3e26a8,#3e26a8,#3e26a8,#3e26a8,#3e26a8,#3e26a8,#3e26a8,#3e26a8,#3e26a8,#3e26a8,#3e26a8,#3e26a8,#3e26a8,#3e26a8,#3e26a8,#3e26a8,#3e26a8,#3e26a8,#3e26a8,#402ab4,#402ab4,#422ec0,#4332cb,#4537d5,#463cde,#4747eb,#4852f4,#4563fd,#3875fe,#2e87f7,#2797eb,#1ca9df,#01b8ca,#24c1ae,#3fca8e,#64cd6f,#9dc943,#c5c22a,#e6bb2d,#febe3c,#fec934,#fad62d,#f5e327,#f5e924,#f6ef20,#f7f51b,#f7f51b,#f9fb15,#f9fb15,#f9fb15,#f9fb15,#f9fb15,#f9fb15,#f9fb15,#f9fb15,#f9fb15,#f9fb15,#f9fb15,#f9fb15,#f9fb15,#f9fb15,#f9fb15,#f9fb15,#f9fb15,#f9fb15,#f9fb15,#f9fb15,#f9fb15,#f9fb15,#f9fb15,#f9fb15,#f9fb15,#f9fb15,#f9fb15,#f9fb15,#f9fb15,#f9fb15,#f9fb15,#f9fb15,#f9fb15,#f9fb15,#f9fb15,#f9fb15,#f9fb15,#f9fb15,#f9fb15,#f9fb15,#f9fb15,#f9fb15,#f9fb15,#f9fb15,#f9fb15,#f9fb15,#f9fb15,#f9fb15,#f9fb15,#f9fb15,#f9fb15,#f9fb15,#f9fb15,#f9fb15,#f9fb15,#f9fb15,#f9fb15,#f9fb15,#f9fb15,#f9fb15,#f9fb15,#f9fb15,#f9fb15,#f9fb15,#f9fb15,#f9fb15,#f9fb15,#f9fb15,#f9fb15,#f9fb15,#f9fb15,#f9fb15,#f9fb15,#f9fb15,#f9fb15,#f9fb15,#f9fb15,#f7f51b,#f7f51b,#f6ef20,#f5e924,#f5e327,#fad62d,#fccf30,#febe3c,#f0ba36,#d1bf27,#abc739,#72cd64,#3fca8e,#24c1ae,#01b8ca,#18addb,#259be8,#2e87f7,#3875fe,#4563fd,#4758f8,#4747eb,#4741e5,#4537d5,#4332cb,#422ec0,#402ab4,#402ab4,#3e26a8,#3e26a8,#3e26a8,#3e26a8,#3e26a8,#3e26a8,#3e26a8,#3e26a8,#3e26a8,#3e26a8,#3e26a8,#3e26a8,#3e26a8,#3e26a8,#3e26a8,#3e26a8,#3e26a8,#3e26a8,#3e26a8,#3e26a8,#3e26a8,#3e26a8)"></div>
<div class="r" style="top:159.19px;height:23.04px;background:linear-gradient(90deg,#3e26a8,#3e26a8,#3e26a8,#3e26a8,#3e26a8,#3e26a8,#3e26a8,#3e26a8,#3e26a8,#3e26a8,#3e26a8,#3e26a8,#3e26a8,#3e26a8,#3e26a8,#3e26a8,#3e26a8,#3e26a8,#3e26a8,#3e26a8,#3e26a8,#3e26a8,#3e26a8,#402ab4,#402ab4,#402ab4,#422ec0,#422ec0,#422ec0,#4332cb,#4332cb,#4537d5,#4537d5,#4537d5,#4537d5,#4537d5,#4537d5,#4537d5,#4537d5,#4332cb,#4332cb,#4332cb,#422ec0,#422ec0,#402ab4,#402ab4,#402ab4,#3e26a8,#3e26a8,#3e26a8,#3e26a8,#3e26a8,#3e26a8,#3e26a8,#3e26a8,#3e26a8,#3e26a8,#3e26a8,#3e26a8,#3e26a8,#3e26a8,#3e26a8,#3e26a8,#3e26a8,#3e26a8,#3e26a8,#3e26a8,#3e26a8,#3e26a8,#3e26a8,#3e26a8,#3e26a8,#3e26a8,#3e26a8,#3e26a8,#3e26a8,#3e26a8,#3e26a8,#3e26a8,#3e26a8,#3e26a8,#3e26a8,#3e26a8,#3e26a8,#3e26a8,#3e26a8,#3e26a8,#3e26a8,#3e26a8,#3e26a8,#3e26a8,#3e26a8,#3e26a8,#3e26a8,#3e26a8,#402ab4,#402ab4,#402ab4,#422ec0,#422ec0,#422ec0,#422ec0,#4332cb,#4332cb,#4332cb,#4332cb,#4332cb,#4332cb,#4332cb,#422ec0,#422ec0,#422ec0,#402ab4,#402ab4,#402ab4,#402ab4,#3e26a8,#3e26a8,#3e26a8,#3e26a8,#3e26a8,#3e26a8,#3e26a8,#3e26a8,#3e26a8,#3e26a8,#3e26a8,#3e26a8,#3e26a8,#3e26a8,#3e26a8,#3e26a8,#3e26a8,#3e26a8,#3e26a8,#3e26a8,#3e26a8,#3e26a8,#3e26a8,#3e26a8,#3e26a8,#3e26a8,#3e26a8,#3e26a8,#3e26a8,#3e26a8,#3e26a8,#3e26a8,#3e26a8,#3e26a8,#3e26a8,#3e26a8,#3e26a8,#3e26a8,#3e26a8,#3e26a8,#3e26a8,#3e26a8,#3e26a8,#3e26a8,#3e26a8,#3e26a8,#3e26a8,#3e26a8,#3e26a8,#3e26a8,#3e26a8,#3e26a8,#3e26a8,#3e26a8,#3e26a8,#3e26a8,#3e26a8,#3e26a8,#3e26a8,#3e26a8,#3e26a8,#3e26a8,#3e26a8,#3e26a8,#3e26a8,#3e26a8,#3e26a8,#3e26a8,#3e26a8,#3e26a8,#3e26a8,#3e26a8,#3e26a8,#3e26a8,#3e26a8,#3e26a8,#3e26a8,#3e26a8,#3e26a8,#3e26a8,#402ab4,#402ab4,#422ec0,#422ec0,#4332cb,#463cde,#4741e5,#484df0,#4758f8,#4269fe,#3875fe,#2e87f7,#259be8,#1ca9df,#01b8ca,#19bfb6,#37c897,#57cc7a,#8fcb4e,#b9c431,#dcbd29,#f0ba36,#febe3c,#fec934,#fad62d,#f7dc2a,#f5e327,#f5e924,#f6ef20,#f6ef20,#f6ef20,#f7f51b,#f7f51b,#f7f51b,#f7f51b,#f7f51b,#f7f51b,#f7f51b,#f7f51b,#f7f51b,#f7f51b,#f7f51b,#f7f51b,#f7f51b,#f7f51b,#f7f51b,#f7f51b,#f7f51b,#f7f51b,#f7f51b,#f7f51b,#f7f51b,#f7f51b,#f7f51b,#f7f51b,#f7f51b,#f7f51b,#f7f51b,#f7f51b,#f7f51b,#f7f51b,#f7f51b,#f7f51b,#f7f51b,#f7f51b,#f7f51b,#f7f51b,#f7f51b,#f7f51b,#f7f51b,#f7f51b,#f7f51b,#f7f51b,#f7f51b,#f7f51b,#f7f51b,#f7f51b,#f7f51b,#f7f51b,#f7f51b,#f7f51b,#f7f51b,#f7f51b,#f7f51b,#f7f51b,#f7f51b,#f7f51b,#f7f51b,#f7f51b,#f7f51b,#f7f51b,#f7f51b,#f7f51b,#f7f51b,#f7f51b,#f7f51b,#f7f51b,#f7f51b,#f7f51b,#f7f51b,#f7f51b,#f7f51b,#f7f51b,#f7f51b,#f7f51b,#f6ef20,#f6ef20,#f5e924,#f5e924,#f5e327,#fad62d,#fccf30,#fec338,#f8ba3d,#e6bb2d,#c5c22a,#9dc943,#72cd64,#3fca8e,#2cc4a7,#02bac3,#18addb,#23a0e5,#2d8cf3,#327cfc,#4269fe,#465efb,#4852f4,#4747eb,#463cde,#4537d5,#4332cb,#422ec0,#402ab4,#402ab4,#3e26a8,#3e26a8,#3e26a8,#3e26a8,#3e26a8,#3e26a8,#3e26a8,#3e26a8,#3e26a8,#3e26a8,#3e26a8,#3e26a8,#3e26a8,#3e26a8,#3e26a8,#3e26a8,#3e26a8,#3e26a8,#3e26a8,#3e26a8,#3e26a8)"></div>
<div class="r" style="top:181.93px;height:23.04px;background:linear-gradient(90deg,#3e26a8,#3e26a8,#3e26a8,#3e26a8,#3e26a8,#3e26a8,#3e26a8,#3e26a8,#3e26a8,#3e26a8,#3e26a8,#3e26a8,#3e26a8,#3e26a8,#3e26a8,#3e26a8,#3e26a8,#3e26a8,#3e26a8,#3e26a8,#3e26a8,#3e26a8,#402ab4,#402ab4,#402ab4,#422ec0,#422ec0,#422ec0,#4332cb,#4332cb,#4537d5,#4537d5,#4537d5,#4537d5,#463cde,#463cde,#463cde,#4537d5,#4537d5,#4537d5,#4332cb,#4332cb,#422ec0,#422ec0,#422ec0,#402ab4,#402ab4,#402ab4,#3e26a8,#3e26a8,#3e26a8,#3e26a8,#3e26a8,#3e26a8,#3e26a8,#3e26a8,#3e26a8,#3e26a8,#3e26a8,#3e26a8,#3e26a8,#3e26a8,#3e26a8,#3e26a8,#3e26a8,#3e26a8,#3e26a8,#3e26a8,#3e26a8,#3e26a8,#3e26a8,#3e26a8,#3e26a8,#3e26a8,#3e26a8,#3e26a8,#3e26a8,#3e26a8,#3e26a8,#3e26a8,#3e26a8,#3e26a8,#3e26a8,#3e26a8,#3e26a8,#3e26a8,#3e26a8,#3e26a8,#3e26a8,#3e26a8,#3e26a8,#3e26a8,#3e26a8,#3e26a8,#402ab4,#402ab4,#402ab4,#422ec0,#422ec0,#422ec0,#4332cb,#4332cb,#4332cb,#4332cb,#4332cb,#4332cb,#4332cb,#4332cb,#4332cb,#4332cb,#422ec0,#422ec0,#422ec0,#402ab4,#402ab4,#402ab4,#402ab4,#3e26a8,#3e26a8,#3e26a8,#3e26a8,#3e26a8,#3e26a8,#3e26a8,#3e26a8,#3e26a8,#3e26a8,#3e26a8,#3e26a8,#3e26a8,#3e26a8,#3e26a8,#3e26a8,#3e26a8,#3e26a8,#3e26a8,#3e26a8,#3e26a8,#3e26a8,#3e26a8,#3e26a8,#3e26a8,#3e26a8,#3e26a8,#3e26a8,#3e26a8,#3e26a8,#3e26a8,#3e26a8,#3e26a8,#3e26a8,#3e26a8,#3e26a8,#3e26a8,#3e26a8,#3e26a8,#3e26a8,#3e26a8,#3e26a8,#3e26a8,#3e26a8,#3e26a8,#3e26a8,#3e26a8,#3e26a8,#3e26a8,#3e26a8,#3e26a8,#3e26a8,#3e26a8,#3e26a8,#3e26a8,#3e26a8,#3e26a8,#3e26a8,#3e26a8,#3e26a8,#3e26a8,#3e26a8,#3e26a8,#3e26a8,#3e26a8,#3e26a8,#3e26a8,#3e26a8,#3e26a8,#3e26a8,#3e26a8,#3e26a8,#3e26a8,#3e26a8,#3e26a8,#3e26a8,#3e26a8,#3e26a8,#402ab4,#402ab4,#422ec0,#422ec0,#4332cb,#4537d5,#463cde,#4747eb,#484df0,#4758f8,#4269fe,#3875fe,#2f81fa,#2b91ef,#23a0e5,#18addb,#08b5d0,#0bbdbd,#24c1ae,#37c897,#4acb84,#64cd6f,#72cd64,#81cc59,#8fcb4e,#9dc943,#9dc943,#abc739,#abc739,#abc739,#abc739,#abc739,#abc739,#9dc943,#9dc943,#9dc943,#9dc943,#9dc943,#9dc943,#9dc943,#9dc943,#9dc943,#9dc943,#9dc943,#9dc943,#9dc943,#9dc943,#9dc943,#9dc943,#9dc943,#9dc943,#9dc943,#9dc943,#9dc943,#9dc943,#9dc943,#9dc943,#9dc943,#9dc943,#9dc943,#9dc943,#9dc943,#9dc943,#9dc943,#9dc943,#9dc943,#9dc943,#9dc943,#9dc943,#9dc943,#9dc943,#9dc943,#9dc943,#9dc943,#9dc943,#9dc943,#9dc943,#9dc943,#9dc943,#9dc943,#9dc943,#9dc943,#9dc943,#9dc943,#9dc943,#9dc943,#9dc943,#9dc943,#9dc943,#9dc943,#9dc943,#9dc943,#9dc943,#9dc943,#9dc943,#9dc943,#9dc943,#9dc943,#9dc943,#9dc943,#9dc943,#9dc943,#9dc943,#9dc943,#abc739,#abc739,#abc739,#abc739,#abc739,#abc739,#abc739,#abc739,#9dc943,#8fcb4e,#81cc59,#72cd64,#57cc7a,#3fca8e,#31c69f,#19bfb6,#02bac3,#12b1d6,#20a5e3,#2797eb,#2d8cf3,#327cfc,#3e6fff,#465efb,#4852f4,#4747eb,#4741e5,#463cde,#4332cb,#4332cb,#422ec0,#402ab4,#402ab4,#3e26a8,#3e26a8,#3e26a8,#3e26a8,#3e26a8,#3e26a8,#3e26a8,#3e26a8,#3e26a8,#3e26a8,#3e26a8,#3e26a8,#3e26a8,#3e26a8,#3e26a8,#3e26a8,#3e26a8,#3e26a8,#3e26a8,#3e26a8)"></div>
<div class="r" style="top:204.67px;height:23.04px;background:linear-gradient(90deg,#3e26a8,#3e26a8,#3e26a8,#3e26a8,#3e26a8,#3e26a8,#3e26a8,#3e26a8,#3e26a8,#3e26a8,#3e26a8,#3e26a8,#3e26a8,#3e26a8,#3e26a8,#3e26a8,#3e26a8,#3e26a8,#3e26a8,#3e26a8,#3e26a8,#402ab4,#402ab4,#402ab4,#422ec0,#422ec0,#422ec0,#4332cb,#4332cb,#4537d5,#4537d5,#4537d5,#463cde,#463cde,#463cde,#463cde,#463cde,#463cde,#463cde,#4537d5,#4537d5,#4537d5,#4332cb,#4332cb,#422ec0,#422ec0,#402ab4,#402ab4,#3e26a8,#3e26a8,#3e26a8,#3e26a8,#3e26a8,#3e26a8,#3e26a8,#3e26a8,#3e26a8,#3e26a8,#3e26a8,#3e26a8,#3e26a8,#3e26a8,#3e26a8,#3e26a8,#3e26a8,#3e26a8,#3e26a8,#3e26a8,#3e26a8,#3e26a8,#3e26a8,#3e26a8,#3e26a8,#3e26a8,#3e26a8,#3e26a8,#3e26a8,#3e26a8,#3e26a8,#3e26a8,#3e26a8,#3e26a8,#3e26a8,#3e26a8,#3e26a8,#3e26a8,#3e26a8,#3e26a8,#3e26a8,#3e26a8,#3e26a8,#3e26a8,#3e26a8,#402ab4,#402ab4,#402ab4,#422ec0,#422ec0,#4332cb,#4332cb,#4332cb,#4537d5,#4537d5,#4537d5,#4537d5,#4537d5,#4537d5,#4537d5,#4332cb,#4332cb,#4332cb,#422ec0,#422ec0,#422ec0,#402ab4,#402ab4,#402ab4,#402ab4,#3e26a8,#3e26a8,#3e26a8,#3e26a8,#3e26a8,#3e26a8,#3e26a8,#3e26a8,#3e26a8,#3e26a8,#3e26a8,#3e26a8,#3e26a8,#3e26a8,#3e26a8,#3e26a8,#3e26a8,#3e26a8,#3e26a8,#3e26a8,#3e26a8,#3e26a8,#3e26a8,#3e26a8,#3e26a8,#3e26a8,#3e26a8,#3e26a8,#3e26a8,#3e26a8,#3e26a8,#3e26a8,#3e26a8,#3e26a8,#3e26a8,#3e26a8,#3e26a8,#3e26a8,#3e26a8,#3e26a8,#3e26a8,#3e26a8,#3e26a8,#3e26a8,#3e26a8,#3e26a8,#3e26a8,#3e26a8,#3e26a8,#3e26a8,#3e26a8,#3e26a8,#3e26a8,#3e26a8,#3e26a8,#3e26a8,#3e26a8,#3e26a8,#3e26a8,#3e26a8,#3e26a8,#3e26a8,#3e26a8,#3e26a8,#3e26a8,#3e26a8,#3e26a8,#3e26a8,#3e26a8,#3e26a8,#3e26a8,#3e26a8,#3e26a8,#3e26a8,#3e26a8,#3e26a8,#402ab4,#402ab4,#402ab4,#422ec0,#4332cb,#4332cb,#4537d5,#463cde,#4747eb,#484df0,#4758f8,#465efb,#4269fe,#3875fe,#2f81fa,#2d8cf3,#2b91ef,#259be8,#23a0e5,#1ca9df,#18addb,#18addb,#12b1d6,#12b1d6,#12b1d6,#12b1d6,#18addb,#18addb,#1ca9df,#20a5e3,#20a5e3,#23a0e5,#259be8,#259be8,#2797eb,#2797eb,#2797eb,#2797eb,#2797eb,#2797eb,#2797eb,#2797eb,#2797eb,#2797eb,#2797eb,#2797eb,#2797eb,#2797eb,#2797eb,#2797eb,#2797eb,#2797eb,#2797eb,#2797eb,#2797eb,#2797eb,#2797eb,#2797eb,#2797eb,#2797eb,#2797eb,#2797eb,#2797eb,#2797eb,#2797eb,#2797eb,#2797eb,#2797eb,#2797eb,#2797eb,#2797eb,#2797eb,#2797eb,#2797eb,#2797eb,#2797eb,#2797eb,#2797eb,#2797eb,#2797eb,#2797eb,#2797eb,#2797eb,#2797eb,#2797eb,#2797eb,#2797eb,#2797eb,#2797eb,#2797eb,#2797eb,#2797eb,#2797eb,#2797eb,#2797eb,#2797eb,#2797eb,#2797eb,#2797eb,#2797eb,#2797eb,#2797eb,#2797eb,#2797eb,#2797eb,#259be8,#259be8,#23a0e5,#23a0e5,#20a5e3,#1ca9df,#18addb,#12b1d6,#12b1d6,#08b5d0,#08b5d0,#08b5d0,#12b1d6,#12b1d6,#18addb,#1ca9df,#23a0e5,#259be8,#2b91ef,#2e87f7,#327cfc,#3e6fff,#4269fe,#465efb,#4852f4,#484df0,#4741e5,#463cde,#4537d5,#4332cb,#422ec0,#422ec0,#402ab4,#402ab4,#3e26a8,#3e26a8,#3e26a8,#3e26a8,#3e26a8,#3e26a8,#3e26a8,#3e26a8,#3e26a8,#3e26a8,#3e26a8,#3e26a8,#3e26a8,#3e26a8,#3e26a8,#3e26a8,#3e26a8,#3e26a8,#3e26a8)"></div>
<div class="r" style="top:227.42px;height:23.04px;background:linear-gradient(90deg,#3e26a8,#3e26a8,#3e26a8,#3e26a8,#3e26a8,#3e26a8,#3e26a8,#3e26a8,#3e26a8,#3e26a8,#3e26a8,#3e26a8,#3e26a8,#3e26a8,#3e26a8,#3e26a8,#3e26a8,#3e26a8,#3e26a8,#3e26a8,#402ab4,#402ab4,#402ab4,#422ec0,#422ec0,#422ec0,#4332cb,#4332cb,#4537d5,#4537d5,#463cde,#463cde,#463cde,#4741e5,#4741e5,#4741e5,#4741e5,#4741e5,#4741e5,#463cde,#463cde,#4537d5,#4537d5,#4332cb,#4332cb,#422ec0,#422ec0,#402ab4,#402ab4,#3e26a8,#3e26a8,#3e26a8,#3e26a8,#3e26a8,#3e26a8,#3e26a8,#3e26a8,#3e26a8,#3e26a8,#3e26a8,#3e26a8,#3e26a8,#3e26a8,#3e26a8,#3e26a8,#3e26a8,#3e26a8,#3e26a8,#3e26a8,#3e26a8,#3e26a8,#3e26a8,#3e26a8,#3e26a8,#3e26a8,#3e26a8,#3e26a8,#3e26a8,#3e26a8,#3e26a8,#3e26a8,#3e26a8,#3e26a8,#3e26a8,#3e26a8,#3e26a8,#3e26a8,#3e26a8,#3e26a8,#3e26a8,#3e26a8,#3e26a8,#402ab4,#402ab4,#422ec0,#422ec0,#4332cb,#4332cb,#4537d5,#4537d5,#4537d5,#463cde,#463cde,#463cde,#463cde,#463cde,#463cde,#4537d5,#4537d5,#4537d5,#4332cb,#4332cb,#4332cb,#422ec0,#422ec0,#422ec0,#402ab4,#402ab4,#402ab4,#3e26a8,#3e26a8,#3e26a8,#3e26a8,#3e26a8,#3e26a8,#3e26a8,#3e26a8,#3e26a8,#3e26a8,#3e26a8,#3e26a8,#3e26a8,#3e26a8,#3e26a8,#3e26a8,#3e26a8,#3e26a8,#3e26a8,#3e26a8,#3e26a8,#3e26a8,#3e26a8,#3e26a8,#3e26a8,#3e26a8,#3e26a8,#3e26a8,#3e26a8,#3e26a8,#3e26a8,#3e26a8,#3e26a8,#3e26a8,#3e26a8,#3e26a8,#3e26a8,#3e26a8,#3e26a8,#3e26a8,#3e26a8,#3e26a8,#3e26a8,#3e26a8,#3e26a8,#3e26a8,#3e26a8,#3e26a8,#3e26a8,#3e26a8,#3e26a8,#3e26a8,#3e26a8,#3e26a8,#3e26a8,#3e26a8,#3e26a8,#3e26a8,#3e26a8,#3e26a8,#3e26a8,#3e26a8,#3e26a8,#3e26a8,#3e26a8,#3e26a8,#3e26a8,#3e26a8,#3e26a8,#3e26a8,#3e26a8,#3e26a8,#3e26a8,#3e26a8,#3e26a8,#402ab4,#402ab4,#422ec0,#422ec0,#4332cb,#4332cb,#4537d5,#463cde,#4741e5,#4747eb,#484df0,#4758f8,#465efb,#4563fd,#4269fe,#3e6fff,#3875fe,#3875fe,#327cfc,#327cfc,#327cfc,#327cfc,#327cfc,#3875fe,#3e6fff,#4269fe,#4563fd,#465efb,#4758f8,#4852f4,#484df0,#4747eb,#4741e5,#4741e5,#463cde,#463cde,#463cde,#463cde,#463cde,#463cde,#463cde,#463cde,#4741e5,#4741e5,#4741e5,#4741e5,#4741e5,#4741e5,#4741e5,#4741e5,#4741e5,#4741e5,#4741e5,#4741e5,#4741e5,#4741e5,#4741e5,#4741e5,#4741e5,#4741e5,#4741e5,#4741e5,#4741e5,#4741e5,#4741e5,#4741e5,#4741e5,#4741e5,#4741e5,#4741e5,#4741e5,#4741e5,#4741e5,#4741e5,#4741e5,#4741e5,#4741e5,#4741e5,#4741e5,#4741e5,#4741e5,#4741e5,#4741e5,#4741e5,#4741e5,#4741e5,#4741e5,#4741e5,#4741e5,#4741e5,#4741e5,#4741e5,#4741e5,#4741e5,#4741e5,#4741e5,#4741e5,#463cde,#463cde,#463cde,#463cde,#463cde,#463cde,#463cde,#463cde,#463cde,#4741e5,#4747eb,#484df0,#4852f4,#4758f8,#465efb,#4563fd,#4269fe,#3875fe,#3875fe,#327cfc,#2f81fa,#2f81fa,#2f81fa,#2f81fa,#2f81fa,#327cfc,#3875fe,#3e6fff,#4269fe,#4563fd,#465efb,#4852f4,#484df0,#4747eb,#4741e5,#463cde,#4537d5,#4332cb,#4332cb,#422ec0,#402ab4,#402ab4,#402ab4,#3e26a8,#3e26a8,#3e26a8,#3e26a8,#3e26a8,#3e26a8,#3e26a8,#3e26a8,#3e26a8,#3e26a8,#3e26a8,#3e26a8,#3e26a8,#3e26a8,#3e26a8,#3e26a8,#3e26a8,#3e26a8)"></div>
<div class="r" style="top:250.16px;height:23.04px;background:linear-gradient(90deg,#3e26a8,#3e26a8,#3e26a8,#3e26a8,#3e26a8,#3e26a8,#3e26a8,#3e26a8,#3e26a8,#3e26a8,#3e26a8,#3e26a8,#3e26a8,#3e26a8,#3e26a8,#3e26a8,#3e26a8,#3e26a8,#402ab4,#402ab4,#402ab4,#402ab4,#422ec0,#422ec0,#4332cb,#4332cb,#4537d5,#4537d5,#463cde,#463cde,#4741e5,#4741e5,#4741e5,#4747eb,#4747eb,#4747eb,#4747eb,#4747eb,#4747eb,#4747eb,#4747eb,#4741e5,#4741e5,#463cde,#463cde,#4537d5,#4332cb,#4332cb,#422ec0,#422ec0,#402ab4,#402ab4,#402ab4,#402ab4,#402ab4,#402ab4,#402ab4,#402ab4,#402ab4,#402ab4,#402ab4,#402ab4,#402ab4,#402ab4,#402ab4,#402ab4,#402ab4,#402ab4,#402ab4,#402ab4,#402ab4,#402ab4,#402ab4,#402ab4,#402ab4,#402ab4,#402ab4,#402ab4,#402ab4,#402ab4,#402ab4,#402ab4,#402ab4,#402ab4,#402ab4,#402ab4,#402ab4,#402ab4,#402ab4,#402ab4,#422ec0,#422ec0,#4332cb,#4332cb,#4332cb,#4537d5,#4537d5,#463cde,#463cde,#4741e5,#4741e5,#4741e5,#4741e5,#4741e5,#4741e5,#4741e5,#4741e5,#463cde,#463cde,#463cde,#4537d5,#4537d5,#4332cb,#4332cb,#422ec0,#422ec0,#422ec0,#402ab4,#402ab4,#402ab4,#402ab4,#3e26a8,#3e26a8,#3e26a8,#3e26a8,#3e26a8,#3e26a8,#3e26a8,#3e26a8,#3e26a8,#3e26a8,#3e26a8,#3e26a8,#3e26a8,#3e26a8,#3e26a8,#3e26a8,#3e26a8,#3e26a8,#3e26a8,#3e26a8,#3e26a8,#3e26a8,#3e26a8,#3e26a8,#3e26a8,#3e26a8,#3e26a8,#3e26a8,#3e26a8,#3e26a8,#3e26a8,#3e26a8,#3e26a8,#3e26a8,#3e26a8,#3e26a8,#3e26a8,#3e26a8,#3e26a8,#3e26a8,#3e26a8,#3e26a8,#3e26a8,#3e26a8,#3e26a8,#3e26a8,#3e26a8,#3e26a8,#3e26a8,#3e26a8,#3e26a8,#3e26a8,#3e26a8,#3e26a8,#3e26a8,#3e26a8,#3e26a8,#3e26a8,#3e26a8,#3e26a8,#3e26a8,#3e26a8,#3e26a8,#3e26a8,#3e26a8,#3e26a8,#3e26a8,#3e26a8,#3e26a8,#3e26a8,#3e26a8,#3e26a8,#402ab4,#402ab4,#402ab4,#422ec0,#422ec0,#4332cb,#4332cb,#4537d5,#463cde,#463cde,#4741e5,#4747eb,#484df0,#484df0,#4852f4,#4852f4,#4758f8,#4758f8,#4758f8,#4758f8,#4758f8,#4758f8,#4758f8,#4852f4,#484df0,#484df0,#4747eb,#4741e5,#463cde,#4537d5,#4332cb,#422ec0,#422ec0,#402ab4,#3e26a8,#3e26a8,#3e26a8,#3e26a8,#3e26a8,#3e26a8,#3e26a8,#402ab4,#402ab4,#402ab4,#402ab4,#402ab4,#402ab4,#402ab4,#3e26a8,#3e26a8,#3e26a8,#3e26a8,#3e26a8,#3e26a8,#3e26a8,#3e26a8,#3e26a8,#3e26a8,#3e26a8,#3e26a8,#3e26a8,#3e26a8,#3e26a8,#3e26a8,#3e26a8,#3e26a8,#3e26a8,#3e26a8,#3e26a8,#3e26a8,#3e26a8,#3e26a8,#3e26a8,#3e26a8,#3e26a8,#3e26a8,#3e26a8,#3e26a8,#3e26a8,#3e26a8,#3e26a8,#3e26a8,#3e26a8,#3e26a8,#3e26a8,#3e26a8,#3e26a8,#3e26a8,#3e26a8,#3e26a8,#3e26a8,#3e26a8,#3e26a8,#3e26a8,#402ab4,#402ab4,#402ab4,#402ab4,#402ab4,#402ab4,#402ab4,#3e26a8,#3e26a8,#3e26a8,#3e26a8,#3e26a8,#3e26a8,#402ab4,#422ec0,#422ec0,#4332cb,#4537d5,#463cde,#4741e5,#4747eb,#484df0,#4852f4,#4758f8,#4758f8,#465efb,#465efb,#465efb,#465efb,#465efb,#465efb,#465efb,#4758f8,#4852f4,#4852f4,#484df0,#4747eb,#4741e5,#463cde,#463cde,#4537d5,#4332cb,#4332cb,#422ec0,#422ec0,#402ab4,#402ab4,#402ab4,#3e26a8,#3e26a8,#3e26a8,#3e26a8,#3e26a8,#3e26a8,#3e26a8,#3e26a8,#3e26a8,#3e26a8,#3e26a8,#3e26a8,#3e26a8,#3e26a8,#3e26a8,#3e26a8,#3e26a8)"></div>
<div class="r" style="top:272.90px;height:23.04px;background:linear-gradient(90deg,#3e26a8,#3e26a8,#3e26a8,#3e26a8,#3e26a8,#3e26a8,#3e26a8,#3e26a8,#3e26a8,#3e26a8,#3e26a8,#3e26a8,#3e26a8,#3e26a8,#3e26a8,#3e26a8,#3e26a8,#402ab4,#402ab4,#402ab4,#402ab4,#422ec0,#422ec0,#4332cb,#4332cb,#4537d5,#4537d5,#463cde,#463cde,#4741e5,#4747eb,#4747eb,#484df0,#484df0,#484df0,#4852f4,#4852f4,#4852f4,#4852f4,#4852f4,#4852f4,#4852f4,#484df0,#484df0,#484df0,#4747eb,#4747eb,#4741e5,#4741e5,#463cde,#463cde,#4537d5,#4537d5,#4537d5,#4332cb,#4332cb,#4332cb,#4332cb,#4332cb,#4332cb,#4332cb,#4332cb,#4332cb,#4332cb,#4332cb,#4332cb,#4332cb,#4332cb,#4332cb,#4332cb,#4332cb,#4332cb,#4332cb,#4332cb,#4332cb,#4332cb,#4332cb,#4332cb,#4332cb,#4332cb,#4332cb,#4332cb,#4332cb,#4332cb,#4332cb,#4332cb,#4537d5,#4537d5,#4537d5,#463cde,#463cde,#463cde,#4741e5,#4741e5,#4747eb,#4747eb,#4747eb,#484df0,#484df0,#484df0,#484df0,#484df0,#484df0,#484df0,#484df0,#4747eb,#4747eb,#4747eb,#4741e5,#4741e5,#463cde,#463cde,#4537d5,#4537d5,#4332cb,#4332cb,#422ec0,#422ec0,#422ec0,#402ab4,#402ab4,#402ab4,#3e26a8,#3e26a8,#3e26a8,#3e26a8,#3e26a8,#3e26a8,#3e26a8,#3e26a8,#3e26a8,#3e26a8,#3e26a8,#3e26a8,#3e26a8,#3e26a8,#3e26a8,#3e26a8,#3e26a8,#3e26a8,#3e26a8,#3e26a8,#3e26a8,#3e26a8,#3e26a8,#3e26a8,#3e26a8,#3e26a8,#3e26a8,#3e26a8,#3e26a8,#3e26a8,#3e26a8,#3e26a8,#3e26a8,#3e26a8,#3e26a8,#3e26a8,#3e26a8,#3e26a8,#3e26a8,#3e26a8,#3e26a8,#3e26a8,#3e26a8,#3e26a8,#3e26a8,#3e26a8,#3e26a8,#3e26a8,#3e26a8,#3e26a8,#3e26a8,#3e26a8,#3e26a8,#3e26a8,#3e26a8,#3e26a8,#3e26a8,#3e26a8,#3e26a8,#3e26a8,#3e26a8,#3e26a8,#3e26a8,#3e26a8,#3e26a8,#3e26a8,#3e26a8,#3e26a8,#3e26a8,#3e26a8,#402ab4,#402ab4,#402ab4,#402ab4,#422ec0,#422ec0,#4332cb,#4332cb,#4332cb,#4537d5,#4537d5,#463cde,#463cde,#4741e5,#4741e5,#4747eb,#4747eb,#4747eb,#4747eb,#4747eb,#4747eb,#4747eb,#4747eb,#4747eb,#4741e5,#4741e5,#4741e5,#463cde,#463cde,#4537d5,#4332cb,#4332cb,#422ec0,#422ec0,#422ec0,#402ab4,#402ab4,#402ab4,#402ab4,#3e26a8,#3e26a8,#3e26a8,#3e26a8,#3e26a8,#3e26a8,#3e26a8,#3e26a8,#3e26a8,#3e26a8,#3e26a8,#3e26a8,#3e26a8,#3e26a8,#3e26a8,#3e26a8,#3e26a8,#3e26a8,#3e26a8,#3e26a8,#3e26a8,#3e26a8,#3e26a8,#3e26a8,#3e26a8,#3e26a8,#3e26a8,#3e26a8,#3e26a8,#3e26a8,#3e26a8,#3e26a8,#3e26a8,#3e26a8,#3e26a8,#3e26a8,#3e26a8,#3e26a8,#3e26a8,#3e26a8,#3e26a8,#3e26a8,#3e26a8,#3e26a8,#3e26a8,#3e26a8,#3e26a8,#3e26a8,#3e26a8,#3e26a8,#3e26a8,#3e26a8,#3e26a8,#3e26a8,#3e26a8,#3e26a8,#3e26a8,#3e26a8,#3e26a8,#3e26a8,#3e26a8,#3e26a8,#3e26a8,#3e26a8,#3e26a8,#402ab4,#402ab4,#402ab4,#402ab4,#422ec0,#422ec0,#4332cb,#4332cb,#4537d5,#4537d5,#463cde,#463cde,#4741e5,#4747eb,#4747eb,#484df0,#484df0,#484df0,#484df0,#484df0,#484df0,#484df0,#484df0,#484df0,#4747eb,#4747eb,#4741e5,#4741e5,#463cde,#463cde,#4537d5,#4537d5,#4332cb,#4332cb,#422ec0,#422ec0,#402ab4,#402ab4,#402ab4,#402ab4,#3e26a8,#3e26a8,#3e26a8,#3e26a8,#3e26a8,#3e26a8,#3e26a8,#3e26a8,#3e26a8,#3e26a8,#3e26a8,#3e26a8,#3e26a8,#3e26a8,#3e26a8,#3e26a8)"></div>
<div class="r" style="top:295.64px;height:23.04px;background:linear-gradient(90deg,#3e26a8,#3e26a8,#3e26a8,#3e26a8,#3e26a8,#3e26a8,#3e26a8,#3e26a8,#3e26a8,#3e26a8,#3e26a8,#3e26a8,#3e26a8,#3e26a8,#3e26a8,#402ab4,#402ab4,#402ab4,#402ab4,#422ec0,#422ec0,#422ec0,#4332cb,#4332cb,#4537d5,#463cde,#463cde,#4741e5,#4747eb,#4747eb,#484df0,#4852f4,#4852f4,#4758f8,#4758f8,#465efb,#465efb,#4563fd,#4563fd,#4563fd,#4563fd,#4563fd,#4563fd,#4563fd,#4563fd,#4563fd,#4563fd,#465efb,#465efb,#4758f8,#4758f8,#4758f8,#4852f4,#4852f4,#4852f4,#4852f4,#484df0,#484df0,#484df0,#484df0,#484df0,#484df0,#484df0,#484df0,#484df0,#484df0,#484df0,#484df0,#484df0,#484df0,#484df0,#484df0,#484df0,#484df0,#484df0,#484df0,#484df0,#484df0,#484df0,#484df0,#484df0,#484df0,#484df0,#484df0,#4852f4,#4852f4,#4852f4,#4852f4,#4758f8,#4758f8,#4758f8,#4758f8,#465efb,#465efb,#465efb,#465efb,#465efb,#465efb,#465efb,#465efb,#465efb,#465efb,#465efb,#4758f8,#4758f8,#4852f4,#4852f4,#484df0,#484df0,#4747eb,#4741e5,#4741e5,#463cde,#463cde,#4537d5,#4332cb,#4332cb,#4332cb,#422ec0,#422ec0,#402ab4,#402ab4,#402ab4,#402ab4,#3e26a8,#3e26a8,#3e26a8,#3e26a8,#3e26a8,#3e26a8,#3e26a8,#3e26a8,#3e26a8,#3e26a8,#3e26a8,#3e26a8,#3e26a8,#3e26a8,#3e26a8,#3e26a8,#3e26a8,#3e26a8,#3e26a8,#3e26a8,#3e26a8,#3e26a8,#3e26a8,#3e26a8,#3e26a8,#3e26a8,#3e26a8,#3e26a8,#3e26a8,#3e26a8,#3e26a8,#3e26a8,#3e26a8,#3e26a8,#3e26a8,#3e26a8,#3e26a8,#3e26a8,#3e26a8,#3e26a8,#3e26a8,#3e26a8,#3e26a8,#3e26a8,#3e26a8,#3e26a8,#3e26a8,#3e26a8,#3e26a8,#3e26a8,#3e26a8,#3e26a8,#3e26a8,#3e26a8,#3e26a8,#3e26a8,#3e26a8,#3e26a8,#3e26a8,#3e26a8,#3e26a8,#3e26a8,#3e26a8,#3e26a8,#3e26a8,#3e26a8,#3e26a8,#3e26a8,#402ab4,#402ab4,#402ab4,#402ab4,#422ec0,#422ec0,#422ec0,#4332cb,#4332cb,#4332cb,#4537d5,#4537d5,#4537d5,#463cde,#463cde,#463cde,#463cde,#4741e5,#4741e5,#4741e5,#4741e5,#4741e5,#4741e5,#463cde,#463cde,#463cde,#4537d5,#4537d5,#4537d5,#4332cb,#4332cb,#4332cb,#422ec0,#422ec0,#422ec0,#402ab4,#402ab4,#402ab4,#402ab4,#3e26a8,#3e26a8,#3e26a8,#3e26a8,#3e26a8,#3e26a8,#3e26a8,#3e26a8,#3e26a8,#3e26a8,#3e26a8,#3e26a8,#3e26a8,#3e26a8,#3e26a8,#3e26a8,#3e26a8,#3e26a8,#3e26a8,#3e26a8,#3e26a8,#3e26a8,#3e26a8,#3e26a8,#3e26a8,#3e26a8,#3e26a8,#3e26a8,#3e26a8,#3e26a8,#3e26a8,#3e26a8,#3e26a8,#3e26a8,#3e26a8,#3e26a8,#3e26a8,#3e26a8,#3e26a8,#3e26a8,#3e26a8,#3e26a8,#3e26a8,#3e26a8,#3e26a8,#3e26a8,#3e26a8,#3e26a8,#3e26a8,#3e26a8,#3e26a8,#3e26a8,#3e26a8,#3e26a8,#3e26a8,#3e26a8,#3e26a8,#3e26a8,#3e26a8,#3e26a8,#3e26a8,#3e26a8,#3e26a8,#3e26a8,#402ab4,#402ab4,#402ab4,#402ab4,#422ec0,#422ec0,#422ec0,#4332cb,#4332cb,#4332cb,#4537d5,#4537d5,#463cde,#463cde,#463cde,#4741e5,#4741e5,#4741e5,#4741e5,#4747eb,#4747eb,#4747eb,#4747eb,#4741e5,#4741e5,#4741e5,#4741e5,#463cde,#463cde,#463cde,#4537d5,#4537d5,#4332cb,#4332cb,#4332cb,#422ec0,#422ec0,#402ab4,#402ab4,#402ab4,#402ab4,#3e26a8,#3e26a8,#3e26a8,#3e26a8,#3e26a8,#3e26a8,#3e26a8,#3e26a8,#3e26a8,#3e26a8,#3e26a8,#3e26a8,#3e26a8,#3e26a8,#3e26a8,#3e26a8)"></div>
<div class="r" style="top:318.38px;height:23.04px;background:linear-gradient(90deg,#3e26a8,#3e26a8,#3e26a8,#3e26a8,#3e26a8,#3e26a8,#3e26a8,#3e26a8,#3e26a8,#3e26a8,#3e26a8,#3e26a8,#3e26a8,#3e26a8,#402ab4,#402ab4,#402ab4,#422ec0,#422ec0,#422ec0,#4332cb,#4332cb,#4537d5,#4537d5,#463cde,#4741e5,#4741e5,#4747eb,#484df0,#4852f4,#4852f4,#4758f8,#465efb,#4563fd,#4269fe,#4269fe,#3e6fff,#3875fe,#3875fe,#327cfc,#327cfc,#327cfc,#2f81fa,#2f81fa,#2f81fa,#2f81fa,#2f81fa,#2f81fa,#2f81fa,#2f81fa,#2f81fa,#2f81fa,#2f81fa,#2f81fa,#2f81fa,#327cfc,#327cfc,#327cfc,#327cfc,#327cfc,#327cfc,#327cfc,#327cfc,#327cfc,#3875fe,#3875fe,#3875fe,#3875fe,#3875fe,#3875fe,#3875fe,#3875fe,#3875fe,#3875fe,#3875fe,#3875fe,#327cfc,#327cfc,#327cfc,#327cfc,#327cfc,#327cfc,#327cfc,#327cfc,#327cfc,#327cfc,#327cfc,#2f81fa,#2f81fa,#2f81fa,#2f81fa,#2f81fa,#2f81fa,#2f81fa,#2f81fa,#327cfc,#327cfc,#327cfc,#327cfc,#3875fe,#3875fe,#3e6fff,#3e6fff,#4269fe,#4563fd,#4563fd,#465efb,#4758f8,#4852f4,#4852f4,#484df0,#4747eb,#4741e5,#4741e5,#463cde,#4537d5,#4537d5,#4332cb,#4332cb,#422ec0,#422ec0,#422ec0,#402ab4,#402ab4,#402ab4,#402ab4,#3e26a8,#3e26a8,#3e26a8,#3e26a8,#3e26a8,#3e26a8,#3e26a8,#3e26a8,#3e26a8,#3e26a8,#3e26a8,#3e26a8,#3e26a8,#3e26a8,#3e26a8,#3e26a8,#3e26a8,#3e26a8,#3e26a8,#3e26a8,#3e26a8,#3e26a8,#3e26a8,#3e26a8,#3e26a8,#3e26a8,#3e26a8,#3e26a8,#3e26a8,#3e26a8,#3e26a8,#3e26a8,#3e26a8,#3e26a8,#3e26a8,#3e26a8,#3e26a8,#3e26a8,#3e26a8,#3e26a8,#3e26a8,#3e26a8,#3e26a8,#3e26a8,#3e26a8,#3e26a8,#3e26a8,#3e26a8,#3e26a8,#3e26a8,#3e26a8,#3e26a8,#3e26a8,#3e26a8,#3e26a8,#3e26a8,#3e26a8,#3e26a8,#3e26a8,#3e26a8,#3e26a8,#3e26a8,#3e26a8,#3e26a8,#3e26a8,#402ab4,#402ab4,#402ab4,#402ab4,#402ab4,#422ec0,#422ec0,#422ec0,#422ec0,#4332cb,#4332cb,#4332cb,#4332cb,#4537d5,#4537d5,#4537d5,#4537d5,#4537d5,#463cde,#463cde,#463cde,#463cde,#463cde,#4537d5,#4537d5,#4537d5,#4537d5,#4537d5,#4537d5,#4332cb,#4332cb,#4332cb,#422ec0,#422ec0,#422ec0,#422ec0,#402ab4,#402ab4,#402ab4,#402ab4,#402ab4,#3e26a8,#3e26a8,#3e26a8,#3e26a8,#3e26a8,#3e26a8,#3e26a8,#3e26a8,#3e26a8,#3e26a8,#3e26a8,#3e26a8,#3e26a8,#3e26a8,#3e26a8,#3e26a8,#3e26a8,#3e26a8,#3e26a8,#3e26a8,#3e26a8,#3e26a8,#3e26a8,#3e26a8,#3e26a8,#3e26a8,#3e26a8,#3e26a8,#3e26a8,#3e26a8,#3e26a8,#3e26a8,#3e26a8,#3e26a8,#3e26a8,#3e26a8,#3e26a8,#3e26a8,#3e26a8,#3e26a8,#3e26a8,#3e26a8,#3e26a8,#3e26a8,#3e26a8,#3e26a8,#3e26a8,#3e26a8,#3e26a8,#3e26a8,#3e26a8,#3e26a8,#3e26a8,#3e26a8,#3e26a8,#3e26a8,#3e26a8,#3e26a8,#3e26a8,#3e26a8,#3e26a8,#3e26a8,#3e26a8,#402ab4,#402ab4,#402ab4,#402ab4,#422ec0,#422ec0,#422ec0,#422ec0,#4332cb,#4332cb,#4332cb,#4537d5,#4537d5,#4537d5,#463cde,#463cde,#463cde,#463cde,#463cde,#463cde,#4741e5,#4741e5,#463cde,#463cde,#463cde,#463cde,#463cde,#463cde,#4537d5,#4537d5,#4537d5,#4332cb,#4332cb,#4332cb,#422ec0,#422ec0,#422ec0,#422ec0,#402ab4,#402ab4,#402ab4,#402ab4,#3e26a8,#3e26a8,#3e26a8,#3e26a8,#3e26a8,#3e26a8,#3e26a8,#3e26a8,#3e26a8,#3e26a8,#3e26a8,#3e26a8,#3e26a8,#3e26a8,#3e26a8)"></div>
<div class="r" style="top:341.12px;height:23.04px;background:linear-gradient(90deg,#3e26a8,#3e26a8,#3e26a8,#3e26a8,#3e26a8,#3e26a8,#3e26a8,#3e26a8,#3e26a8,#3e26a8,#3e26a8,#3e26a8,#402ab4,#402ab4,#402ab4,#402ab4,#422ec0,#422ec0,#422ec0,#4332cb,#4332cb,#4537d5,#463cde,#463cde,#4741e5,#4747eb,#4747eb,#484df0,#4852f4,#4758f8,#465efb,#4563fd,#4269fe,#3e6fff,#3e6fff,#3875fe,#327cfc,#2f81fa,#2e87f7,#2d8cf3,#2d8cf3,#2b91ef,#2797eb,#2797eb,#259be8,#259be8,#23a0e5,#23a0e5,#20a5e3,#20a5e3,#20a5e3,#20a5e3,#20a5e3,#1ca9df,#1ca9df,#1ca9df,#1ca9df,#1ca9df,#1ca9df,#1ca9df,#1ca9df,#1ca9df,#1ca9df,#1ca9df,#1ca9df,#1ca9df,#1ca9df,#1ca9df,#1ca9df,#1ca9df,#1ca9df,#1ca9df,#1ca9df,#1ca9df,#1ca9df,#1ca9df,#1ca9df,#1ca9df,#1ca9df,#1ca9df,#1ca9df,#1ca9df,#1ca9df,#1ca9df,#20a5e3,#20a5e3,#20a5e3,#20a5e3,#20a5e3,#20a5e3,#23a0e5,#23a0e5,#23a0e5,#259be8,#259be8,#2797eb,#2797eb,#2b91ef,#2d8cf3,#2d8cf3,#2e87f7,#2f81fa,#327cfc,#3875fe,#3875fe,#3e6fff,#4269fe,#4563fd,#465efb,#4758f8,#4852f4,#484df0,#484df0,#4747eb,#4741e5,#463cde,#463cde,#4537d5,#4537d5,#4332cb,#4332cb,#422ec0,#422ec0,#402ab4,#402ab4,#402ab4,#402ab4,#3e26a8,#3e26a8,#3e26a8,#3e26a8,#3e26a8,#3e26a8,#3e26a8,#3e26a8,#3e26a8,#3e26a8,#3e26a8,#3e26a8,#3e26a8,#3e26a8,#3e26a8,#3e26a8,#3e26a8,#3e26a8,#3e26a8,#3e26a8,#3e26a8,#3e26a8,#3e26a8,#3e26a8,#3e26a8,#3e26a8,#3e26a8,#3e26a8,#3e26a8,#3e26a8,#3e26a8,#3e26a8,#3e26a8,#3e26a8,#3e26a8,#3e26a8,#3e26a8,#3e26a8,#3e26a8,#3e26a8,#3e26a8,#3e26a8,#3e26a8,#3e26a8,#3e26a8,#3e26a8,#3e26a8,#3e26a8,#3e26a8,#3e26a8,#3e26a8,#3e26a8,#3e26a8,#3e26a8,#3e26a8,#3e26a8,#3e26a8,#3e26a8,#3e26a8,#3e26a8,#3e26a8,#3e26a8,#3e26a8,#3e26a8,#402ab4,#402ab4,#402ab4,#402ab4,#402ab4,#402ab4,#422ec0,#422ec0,#422ec0,#422ec0,#4332cb,#4332cb,#4332cb,#4332cb,#4332cb,#4332cb,#4537d5,#4537d5,#4537d5,#4537d5,#4537d5,#4537d5,#4537d5,#4537d5,#4537d5,#4537d5,#4332cb,#4332cb,#4332cb,#4332cb,#4332cb,#422ec0,#422ec0,#422ec0,#422ec0,#422ec0,#402ab4,#402ab4,#402ab4,#402ab4,#402ab4,#3e26a8,#3e26a8,#3e26a8,#3e26a8,#3e26a8,#3e26a8,#3e26a8,#3e26a8,#3e26a8,#3e26a8,#3e26a8,#3e26a8,#3e26a8,#3e26a8,#3e26a8,#3e26a8,#3e26a8,#3e26a8,#3e26a8,#3e26a8,#3e26a8,#3e26a8,#3e26a8,#3e26a8,#3e26a8,#3e26a8,#3e26a8,#3e26a8,#3e26a8,#3e26a8,#3e26a8,#3e26a8,#3e26a8,#3e26a8,#3e26a8,#3e26a8,#3e26a8,#3e26a8,#3e26a8,#3e26a8,#3e26a8,#3e26a8,#3e26a8,#3e26a8,#3e26a8,#3e26a8,#3e26a8,#3e26a8,#3e26a8,#3e26a8,#3e26a8,#3e26a8,#3e26a8,#3e26a8,#3e26a8,#3e26a8,#3e26a8,#3e26a8,#3e26a8,#3e26a8,#3e26a8,#3e26a8,#402ab4,#402ab4,#402ab4,#402ab4,#402ab4,#422ec0,#422ec0,#422ec0,#422ec0,#4332cb,#4332cb,#4332cb,#4332cb,#4537d5,#4537d5,#4537d5,#4537d5,#4537d5,#4537d5,#463cde,#463cde,#463cde,#463cde,#463cde,#463cde,#4537d5,#4537d5,#4537d5,#4537d5,#4537d5,#4537d5,#4332cb,#4332cb,#4332cb,#4332cb,#422ec0,#422ec0,#422ec0,#422ec0,#402ab4,#402ab4,#402ab4,#402ab4,#402ab4,#3e26a8,#3e26a8,#3e26a8,#3e26a8,#3e26a8,#3e26a8,#3e26a8,#3e26a8,#3e26a8,#3e26a8,#3e26a8,#3e26a8,#3e26a8,#3e26a8)"></div>
<div class="r" style="top:363.87px;height:23.04px;background:linear-gradient(90deg,#3e26a8,#3e26a8,#3e26a8,#3e26a8,#3e26a8,#3e26a8,#3e26a8,#3e26a8,#3e26a8,#3e26a8,#402ab4,#402ab4,#402ab4,#402ab4,#422ec0,#422ec0,#422ec0,#4332cb,#4332cb,#4537d5,#4537d5,#463cde,#463cde,#4741e5,#4747eb,#4747eb,#484df0,#4852f4,#4758f8,#465efb,#4563fd,#4269fe,#3e6fff,#3875fe,#327cfc,#2f81fa,#2e87f7,#2d8cf3,#2d8cf3,#2b91ef,#2797eb,#259be8,#23a0e5,#20a5e3,#1ca9df,#1ca9df,#18addb,#12b1d6,#12b1d6,#08b5d0,#08b5d0,#01b8ca,#01b8ca,#01b8ca,#02bac3,#02bac3,#02bac3,#02bac3,#0bbdbd,#0bbdbd,#0bbdbd,#0bbdbd,#0bbdbd,#0bbdbd,#0bbdbd,#0bbdbd,#0bbdbd,#0bbdbd,#0bbdbd,#0bbdbd,#0bbdbd,#0bbdbd,#0bbdbd,#0bbdbd,#0bbdbd,#0bbdbd,#0bbdbd,#0bbdbd,#0bbdbd,#0bbdbd,#0bbdbd,#02bac3,#02bac3,#02bac3,#02bac3,#01b8ca,#01b8ca,#01b8ca,#08b5d0,#08b5d0,#12b1d6,#12b1d6,#18addb,#18addb,#1ca9df,#20a5e3,#23a0e5,#23a0e5,#259be8,#2797eb,#2b91ef,#2d8cf3,#2e87f7,#2f81fa,#327cfc,#3875fe,#3e6fff,#4269fe,#4563fd,#465efb,#4758f8,#4852f4,#4852f4,#484df0,#4747eb,#4741e5,#4741e5,#463cde,#4537d5,#4537d5,#4332cb,#4332cb,#422ec0,#422ec0,#422ec0,#402ab4,#402ab4,#402ab4,#402ab4,#3e26a8,#3e26a8,#3e26a8,#3e26a8,#3e26a8,#3e26a8,#3e26a8,#3e26a8,#3e26a8,#3e26a8,#3e26a8,#3e26a8,#3e26a8,#3e26a8,#3e26a8,#3e26a8,#3e26a8,#3e26a8,#3e26a8,#3e26a8,#3e26a8,#3e26a8,#3e26a8,#3e26a8,#3e26a8,#3e26a8,#3e26a8,#3e26a8,#3e26a8,#3e26a8,#3e26a8,#3e26a8,#3e26a8,#3e26a8,#3e26a8,#3e26a8,#3e26a8,#3e26a8,#3e26a8,#3e26a8,#3e26a8,#3e26a8,#3e26a8,#3e26a8,#3e26a8,#3e26a8,#3e26a8,#3e26a8,#3e26a8,#3e26a8,#3e26a8,#3e26a8,#3e26a8,#3e26a8,#3e26a8,#3e26a8,#3e26a8,#3e26a8,#3e26a8,#3e26a8,#3e26a8,#402ab4,#402ab4,#402ab4,#402ab4,#402ab4,#402ab4,#402ab4,#422ec0,#422ec0,#422ec0,#422ec0,#422ec0,#422ec0,#4332cb,#4332cb,#4332cb,#4332cb,#4332cb,#4332cb,#4332cb,#4332cb,#4332cb,#4332cb,#4332cb,#4332cb,#4332cb,#4332cb,#4332cb,#4332cb,#4332cb,#422ec0,#422ec0,#422ec0,#422ec0,#422ec0,#422ec0,#402ab4,#402ab4,#402ab4,#402ab4,#402ab4,#402ab4,#402ab4,#3e26a8,#3e26a8,#3e26a8,#3e26a8,#3e26a8,#3e26a8,#3e26a8,#3e26a8,#3e26a8,#3e26a8,#3e26a8,#3e26a8,#3e26a8,#3e26a8,#3e26a8,#3e26a8,#3e26a8,#3e26a8,#3e26a8,#3e26a8,#3e26a8,#3e26a8,#3e26a8,#3e26a8,#3e26a8,#3e26a8,#3e26a8,#3e26a8,#3e26a8,#3e26a8,#3e26a8,#3e26a8,#3e26a8,#3e26a8,#3e26a8,#3e26a8,#3e26a8,#3e26a8,#3e26a8,#3e26a8,#3e26a8,#3e26a8,#3e26a8,#3e26a8,#3e26a8,#3e26a8,#3e26a8,#3e26a8,#3e26a8,#3e26a8,#3e26a8,#3e26a8,#3e26a8,#3e26a8,#3e26a8,#3e26a8,#3e26a8,#3e26a8,#3e26a8,#3e26a8,#402ab4,#402ab4,#402ab4,#402ab4,#402ab4,#402ab4,#422ec0,#422ec0,#422ec0,#422ec0,#422ec0,#4332cb,#4332cb,#4332cb,#4332cb,#4332cb,#4537d5,#4537d5,#4537d5,#4537d5,#4537d5,#4537d5,#4537d5,#4537d5,#4537d5,#4537d5,#4537d5,#4537d5,#4537d5,#4332cb,#4332cb,#4332cb,#4332cb,#4332cb,#4332cb,#422ec0,#422ec0,#422ec0,#422ec0,#422ec0,#402ab4,#402ab4,#402ab4,#402ab4,#402ab4,#3e26a8,#3e26a8,#3e26a8,#3e26a8,#3e26a8,#3e26a8,#3e26a8,#3e26a8,#3e26a8,#3e26a8,#3e26a8,#3e26a8,#3e26a8,#3e26a8)"></div>
<div class="r" style="top:386.61px;height:23.04px;background:linear-gradient(90deg,#3e26a8,#3e26a8,#3e26a8,#3e26a8,#3e26a8,#3e26a8,#3e26a8,#3e26a8,#402ab4,#402ab4,#402ab4,#402ab4,#402ab4,#422ec0,#422ec0,#422ec0,#4332cb,#4332cb,#4537d5,#4537d5,#463cde,#463cde,#4741e5,#4741e5,#4747eb,#484df0,#4852f4,#4852f4,#4758f8,#465efb,#4563fd,#4269fe,#3e6fff,#3e6fff,#3875fe,#327cfc,#2f81fa,#2e87f7,#2d8cf3,#2b91ef,#2797eb,#2797eb,#259be8,#23a0e5,#20a5e3,#20a5e3,#1ca9df,#1ca9df,#18addb,#12b1d6,#12b1d6,#12b1d6,#08b5d0,#08b5d0,#01b8ca,#01b8ca,#01b8ca,#01b8ca,#02bac3,#02bac3,#02bac3,#02bac3,#02bac3,#02bac3,#02bac3,#02bac3,#02bac3,#0bbdbd,#0bbdbd,#0bbdbd,#0bbdbd,#0bbdbd,#0bbdbd,#0bbdbd,#02bac3,#02bac3,#02bac3,#02bac3,#02bac3,#02bac3,#02bac3,#02bac3,#01b8ca,#01b8ca,#01b8ca,#01b8ca,#08b5d0,#08b5d0,#08b5d0,#12b1d6,#12b1d6,#18addb,#18addb,#1ca9df,#20a5e3,#20a5e3,#23a0e5,#259be8,#2797eb,#2b91ef,#2b91ef,#2d8cf3,#2e87f7,#2f81fa,#327cfc,#3875fe,#3e6fff,#4269fe,#4563fd,#4563fd,#465efb,#4758f8,#4852f4,#484df0,#484df0,#4747eb,#4741e5,#4741e5,#463cde,#4537d5,#4537d5,#4332cb,#4332cb,#4332cb,#422ec0,#422ec0,#422ec0,#402ab4,#402ab4,#402ab4,#402ab4,#3e26a8,#3e26a8,#3e26a8,#3e26a8,#3e26a8,#3e26a8,#3e26a8,#3e26a8,#3e26a8,#3e26a8,#3e26a8,#3e26a8,#3e26a8,#3e26a8,#3e26a8,#3e26a8,#3e26a8,#3e26a8,#3e26a8,#3e26a8,#3e26a8,#3e26a8,#3e26a8,#3e26a8,#3e26a8,#3e26a8,#3e26a8,#3e26a8,#3e26a8,#3e26a8,#3e26a8,#3e26a8,#3e26a8,#3e26a8,#3e26a8,#3e26a8,#3e26a8,#3e26a8,#3e26a8,#3e26a8,#3e26a8,#3e26a8,#3e26a8,#3e26a8,#3e26a8,#3e26a8,#3e26a8,#3e26a8,#3e26a8,#3e26a8,#3e26a8,#3e26a8,#3e26a8,#3e26a8,#3e26a8,#3e26a8,#3e26a8,#3e26a8,#3e26a8,#402ab4,#402ab4,#402ab4,#402ab4,#402ab4,#402ab4,#402ab4,#402ab4,#422ec0,#422ec0,#422ec0,#422ec0,#422ec0,#422ec0,#422ec0,#422ec0,#4332cb,#4332cb,#4332cb,#4332cb,#4332cb,#4332cb,#4332cb,#4332cb,#4332cb,#4332cb,#4332cb,#4332cb,#422ec0,#422ec0,#422ec0,#422ec0,#422ec0,#422ec0,#422ec0,#422ec0,#402ab4,#402ab4,#402ab4,#402ab4,#402ab4,#402ab4,#402ab4,#3e26a8,#3e26a8,#3e26a8,#3e26a8,#3e26a8,#3e26a8,#3e26a8,#3e26a8,#3e26a8,#3e26a8,#3e26a8,#3e26a8,#3e26a8,#3e26a8,#3e26a8,#3e26a8,#3e26a8,#3e26a8,#3e26a8,#3e26a8,#3e26a8,#3e26a8,#3e26a8,#3e26a8,#3e26a8,#3e26a8,#3e26a8,#3e26a8,#3e26a8,#3e26a8,#3e26a8,#3e26a8,#3e26a8,#3e26a8,#3e26a8,#3e26a8,#3e26a8,#3e26a8,#3e26a8,#3e26a8,#3e26a8,#3e26a8,#3e26a8,#3e26a8,#3e26a8,#3e26a8,#3e26a8,#3e26a8,#3e26a8,#3e26a8,#3e26a8,#3e26a8,#3e26a8,#3e26a8,#3e26a8,#3e26a8,#3e26a8,#3e26a8,#3e26a8,#3e26a8,#402ab4,#402ab4,#402ab4,#402ab4,#402ab4,#402ab4,#422ec0,#422ec0,#422ec0,#422ec0,#422ec0,#422ec0,#4332cb,#4332cb,#4332cb,#4332cb,#4332cb,#4332cb,#4332cb,#4332cb,#4332cb,#4332cb,#4332cb,#4332cb,#4332cb,#4332cb,#4332cb,#4332cb,#4332cb,#4332cb,#4332cb,#4332cb,#4332cb,#422ec0,#422ec0,#422ec0,#422ec0,#422ec0,#422ec0,#402ab4,#402ab4,#402ab4,#402ab4,#402ab4,#402ab4,#402ab4,#3e26a8,#3e26a8,#3e26a8,#3e26a8,#3e26a8,#3e26a8,#3e26a8,#3e26a8,#3e26a8,#3e26a8,#3e26a8,#3e26a8,#3e26a8)"></div>
<div class="r" style="top:409.35px;height:23.04px;background:linear-gradient(90deg,#3e26a8,#3e26a8,#3e26a8,#3e26a8,#3e26a8,#3e26a8,#3e26a8,#402ab4,#402ab4,#402ab4,#402ab4,#402ab4,#422ec0,#422ec0,#422ec0,#4332cb,#4332cb,#4332cb,#4537d5,#4537d5,#463cde,#463cde,#4741e5,#4741e5,#4747eb,#4747eb,#484df0,#4852f4,#4852f4,#4758f8,#465efb,#465efb,#4563fd,#4269fe,#4269fe,#3e6fff,#3875fe,#3875fe,#327cfc,#327cfc,#2f81fa,#2e87f7,#2e87f7,#2d8cf3,#2d8cf3,#2d8cf3,#2b91ef,#2b91ef,#2b91ef,#2797eb,#2797eb,#2797eb,#2797eb,#2797eb,#259be8,#259be8,#259be8,#259be8,#259be8,#259be8,#259be8,#259be8,#259be8,#259be8,#259be8,#259be8,#259be8,#259be8,#259be8,#259be8,#259be8,#259be8,#259be8,#259be8,#259be8,#259be8,#259be8,#259be8,#259be8,#259be8,#259be8,#259be8,#259be8,#259be8,#259be8,#259be8,#259be8,#259be8,#259be8,#2797eb,#2797eb,#2797eb,#2797eb,#2b91ef,#2b91ef,#2d8cf3,#2d8cf3,#2d8cf3,#2e87f7,#2f81fa,#2f81fa,#327cfc,#327cfc,#3875fe,#3e6fff,#3e6fff,#4269fe,#4563fd,#4563fd,#465efb,#4758f8,#4852f4,#4852f4,#484df0,#4747eb,#4747eb,#4741e5,#4741e5,#463cde,#463cde,#4537d5,#4537d5,#4332cb,#4332cb,#4332cb,#422ec0,#422ec0,#422ec0,#402ab4,#402ab4,#402ab4,#402ab4,#402ab4,#3e26a8,#3e26a8,#3e26a8,#3e26a8,#3e26a8,#3e26a8,#3e26a8,#3e26a8,#3e26a8,#3e26a8,#3e26a8,#3e26a8,#3e26a8,#3e26a8,#3e26a8,#3e26a8,#3e26a8,#3e26a8,#3e26a8,#3e26a8,#3e26a8,#3e26a8,#3e26a8,#3e26a8,#3e26a8,#3e26a8,#3e26a8,#3e26a8,#3e26a8,#3e26a8,#3e26a8,#3e26a8,#3e26a8,#3e26a8,#3e26a8,#3e26a8,#3e26a8,#3e26a8,#3e26a8,#3e26a8,#3e26a8,#3e26a8,#3e26a8,#3e26a8,#3e26a8,#3e26a8,#3e26a8,#3e26a8,#3e26a8,#3e26a8,#3e26a8,#3e26a8,#3e26a8,#3e26a8,#3e26a8,#3e26a8,#3e26a8,#402ab4,#402ab4,#402ab4,#402ab4,#402ab4,#402ab4,#402ab4,#402ab4,#402ab4,#422ec0,#422ec0,#422ec0,#422ec0,#422ec0,#422ec0,#422ec0,#422ec0,#422ec0,#422ec0,#422ec0,#422ec0,#422ec0,#422ec0,#422ec0,#422ec0,#422ec0,#422ec0,#422ec0,#422ec0,#422ec0,#422ec0,#422ec0,#422ec0,#422ec0,#422ec0,#402ab4,#402ab4,#402ab4,#402ab4,#402ab4,#402ab4,#402ab4,#402ab4,#402ab4,#3e26a8,#3e26a8,#3e26a8,#3e26a8,#3e26a8,#3e26a8,#3e26a8,#3e26a8,#3e26a8,#3e26a8,#3e26a8,#3e26a8,#3e26a8,#3e26a8,#3e26a8,#3e26a8,#3e26a8,#3e26a8,#3e26a8,#3e26a8,#3e26a8,#3e26a8,#3e26a8,#3e26a8,#3e26a8,#3e26a8,#3e26a8,#3e26a8,#3e26a8,#3e26a8,#3e26a8,#3e26a8,#3e26a8,#3e26a8,#3e26a8,#3e26a8,#3e26a8,#3e26a8,#3e26a8,#3e26a8,#3e26a8,#3e26a8,#3e26a8,#3e26a8,#3e26a8,#3e26a8,#3e26a8,#3e26a8,#3e26a8,#3e26a8,#3e26a8,#3e26a8,#3e26a8,#3e26a8,#3e26a8,#3e26a8,#3e26a8,#3e26a8,#402ab4,#402ab4,#402ab4,#402ab4,#402ab4,#402ab4,#402ab4,#402ab4,#422ec0,#422ec0,#422ec0,#422ec0,#422ec0,#422ec0,#422ec0,#4332cb,#4332cb,#4332cb,#4332cb,#4332cb,#4332cb,#4332cb,#4332cb,#4332cb,#4332cb,#4332cb,#4332cb,#4332cb,#4332cb,#4332cb,#4332cb,#4332cb,#4332cb,#422ec0,#422ec0,#422ec0,#422ec0,#422ec0,#422ec0,#422ec0,#402ab4,#402ab4,#402ab4,#402ab4,#402ab4,#402ab4,#402ab4,#402ab4,#3e26a8,#3e26a8,#3e26a8,#3e26a8,#3e26a8,#3e26a8,#3e26a8,#3e26a8,#3e26a8,#3e26a8,#3e26a8,#3e26a8)"></div>
<div class="r" style="top:432.09px;height:23.04px;background:linear-gradient(90deg,#3e26a8,#3e26a8,#3e26a8,#3e26a8,#3e26a8,#3e26a8,#402ab4,#402ab4,#402ab4,#402ab4,#402ab4,#422ec0,#422ec0,#422ec0,#422ec0,#4332cb,#4332cb,#4332cb,#4537d5,#4537d5,#4537d5,#463cde,#463cde,#4741e5,#4741e5,#4741e5,#4747eb,#4747eb,#484df0,#484df0,#4852f4,#4852f4,#4852f4,#4758f8,#4758f8,#465efb,#465efb,#465efb,#465efb,#4563fd,#4563fd,#4563fd,#4563fd,#4269fe,#4269fe,#4269fe,#4269fe,#4269fe,#4269fe,#4269fe,#4269fe,#4269fe,#4269fe,#4563fd,#4563fd,#4563fd,#4563fd,#4563fd,#4563fd,#4563fd,#465efb,#465efb,#465efb,#465efb,#465efb,#465efb,#465efb,#465efb,#465efb,#465efb,#465efb,#465efb,#465efb,#465efb,#465efb,#465efb,#465efb,#465efb,#4563fd,#4563fd,#4563fd,#4563fd,#4563fd,#4269fe,#4269fe,#4269fe,#4269fe,#4269fe,#4269fe,#4269fe,#4269fe,#3e6fff,#3e6fff,#3e6fff,#4269fe,#4269fe,#4269fe,#4269fe,#4269fe,#4269fe,#4563fd,#4563fd,#4563fd,#4563fd,#465efb,#465efb,#4758f8,#4758f8,#4852f4,#4852f4,#4852f4,#484df0,#484df0,#4747eb,#4747eb,#4741e5,#4741e5,#463cde,#463cde,#4537d5,#4537d5,#4537d5,#4332cb,#4332cb,#4332cb,#422ec0,#422ec0,#422ec0,#422ec0,#402ab4,#402ab4,#402ab4,#402ab4,#402ab4,#3e26a8,#3e26a8,#3e26a8,#3e26a8,#3e26a8,#3e26a8,#3e26a8,#3e26a8,#3e26a8,#3e26a8,#3e26a8,#3e26a8,#3e26a8,#3e26a8,#3e26a8,#3e26a8,#3e26a8,#3e26a8,#3e26a8,#3e26a8,#3e26a8,#3e26a8,#3e26a8,#3e26a8,#3e26a8,#3e26a8,#3e26a8,#3e26a8,#3e26a8,#3e26a8,#3e26a8,#3e26a8,#3e26a8,#3e26a8,#3e26a8,#3e26a8,#3e26a8,#3e26a8,#3e26a8,#3e26a8,#3e26a8,#3e26a8,#3e26a8,#3e26a8,#3e26a8,#3e26a8,#3e26a8,#3e26a8,#3e26a8,#3e26a8,#3e26a8,#3e26a8,#3e26a8,#3e26a8,#3e26a8,#3e26a8,#402ab4,#402ab4,#402ab4,#402ab4,#402ab4,#402ab4,#402ab4,#402ab4,#402ab4,#402ab4,#422ec0,#422ec0,#422ec0,#422ec0,#422ec0,#422ec0,#422ec0,#422ec0,#422ec0,#422ec0,#422ec0,#422ec0,#422ec0,#422ec0,#422ec0,#422ec0,#422ec0,#422ec0,#422ec0,#422ec0,#422ec0,#422ec0,#422ec0,#402ab4,#402ab4,#402ab4,#402ab4,#402ab4,#402ab4,#402ab4,#402ab4,#402ab4,#402ab4,#402ab4,#3e26a8,#3e26a8,#3e26a8,#3e26a8,#3e26a8,#3e26a8,#3e26a8,#3e26a8,#3e26a8,#3e26a8,#3e26a8,#3e26a8,#3e26a8,#3e26a8,#3e26a8,#3e26a8,#3e26a8,#3e26a8,#3e26a8,#3e26a8,#3e26a8,#3e26a8,#3e26a8,#3e26a8,#3e26a8,#3e26a8,#3e26a8,#3e26a8,#3e26a8,#3e26a8,#3e26a8,#3e26a8,#3e26a8,#3e26a8,#3e26a8,#3e26a8,#3e26a8,#3e26a8,#3e26a8,#3e26a8,#3e26a8,#3e26a8,#3e26a8,#3e26a8,#3e26a8,#3e26a8,#3e26a8,#3e26a8,#3e26a8,#3e26a8,#3e26a8,#3e26a8,#3e26a8,#3e26a8,#3e26a8,#3e26a8,#3e26a8,#402ab4,#402ab4,#402ab4,#402ab4,#402ab4,#402ab4,#402ab4,#402ab4,#402ab4,#422ec0,#422ec0,#422ec0,#422ec0,#422ec0,#422ec0,#422ec0,#422ec0,#422ec0,#422ec0,#4332cb,#4332cb,#4332cb,#4332cb,#4332cb,#4332cb,#4332cb,#4332cb,#4332cb,#4332cb,#4332cb,#4332cb,#422ec0,#422ec0,#422ec0,#422ec0,#422ec0,#422ec0,#422ec0,#422ec0,#422ec0,#422ec0,#402ab4,#402ab4,#402ab4,#402ab4,#402ab4,#402ab4,#402ab4,#402ab4,#402ab4,#3e26a8,#3e26a8,#3e26a8,#3e26a8,#3e26a8,#3e26a8,#3e26a8,#3e26a8,#3e26a8,#3e26a8,#3e26a8)"></div>
<div class="r" style="top:454.83px;height:23.04px;background:linear-gradient(90deg,#3e26a8,#3e26a8,#3e26a8,#3e26a8,#3e26a8,#402ab4,#402ab4,#402ab4,#402ab4,#402ab4,#402ab4,#422ec0,#422ec0,#422ec0,#422ec0,#422ec0,#4332cb,#4332cb,#4332cb,#4332cb,#4537d5,#4537d5,#4537d5,#4537d5,#463cde,#463cde,#463cde,#463cde,#4741e5,#4741e5,#4741e5,#4741e5,#4747eb,#4747eb,#4747eb,#4747eb,#4747eb,#4747eb,#4747eb,#4747eb,#4747eb,#4747eb,#4747eb,#4747eb,#4747eb,#4747eb,#4747eb,#4747eb,#4747eb,#4741e5,#4741e5,#4741e5,#4741e5,#463cde,#463cde,#463cde,#463cde,#4537d5,#4537d5,#4537d5,#4537d5,#4332cb,#4332cb,#4332cb,#4332cb,#4332cb,#422ec0,#422ec0,#422ec0,#422ec0,#422ec0,#422ec0,#422ec0,#422ec0,#4332cb,#4332cb,#4332cb,#4332cb,#4537d5,#4537d5,#4537d5,#4537d5,#463cde,#463cde,#463cde,#4741e5,#4741e5,#4741e5,#4747eb,#4747eb,#4747eb,#4747eb,#4747eb,#484df0,#484df0,#484df0,#484df0,#484df0,#484df0,#484df0,#484df0,#484df0,#484df0,#484df0,#484df0,#484df0,#484df0,#4747eb,#4747eb,#4747eb,#4747eb,#4741e5,#4741e5,#4741e5,#463cde,#463cde,#463cde,#463cde,#4537d5,#4537d5,#4537d5,#4332cb,#4332cb,#4332cb,#4332cb,#422ec0,#422ec0,#422ec0,#422ec0,#402ab4,#402ab4,#402ab4,#402ab4,#402ab4,#402ab4,#402ab4,#3e26a8,#3e26a8,#3e26a8,#3e26a8,#3e26a8,#3e26a8,#3e26a8,#3e26a8,#3e26a8,#3e26a8,#3e26a8,#3e26a8,#3e26a8,#3e26a8,#3e26a8,#3e26a8,#3e26a8,#3e26a8,#3e26a8,#3e26a8,#3e26a8,#3e26a8,#3e26a8,#3e26a8,#3e26a8,#3e26a8,#3e26a8,#3e26a8,#3e26a8,#3e26a8,#3e26a8,#3e26a8,#3e26a8,#3e26a8,#3e26a8,#3e26a8,#3e26a8,#3e26a8,#3e26a8,#3e26a8,#3e26a8,#3e26a8,#3e26a8,#3e26a8,#3e26a8,#3e26a8,#3e26a8,#3e26a8,#3e26a8,#3e26a8,#3e26a8,#3e26a8,#3e26a8,#402ab4,#402ab4,#402ab4,#402ab4,#402ab4,#402ab4,#402ab4,#402ab4,#402ab4,#402ab4,#402ab4,#402ab4,#402ab4,#422ec0,#422ec0,#422ec0,#422ec0,#422ec0,#422ec0,#422ec0,#422ec0,#422ec0,#422ec0,#422ec0,#422ec0,#422ec0,#422ec0,#422ec0,#422ec0,#422ec0,#422ec0,#422ec0,#402ab4,#402ab4,#402ab4,#402ab4,#402ab4,#402ab4,#402ab4,#402ab4,#402ab4,#402ab4,#402ab4,#402ab4,#402ab4,#3e26a8,#3e26a8,#3e26a8,#3e26a8,#3e26a8,#3e26a8,#3e26a8,#3e26a8,#3e26a8,#3e26a8,#3e26a8,#3e26a8,#3e26a8,#3e26a8,#3e26a8,#3e26a8,#3e26a8,#3e26a8,#3e26a8,#3e26a8,#3e26a8,#3e26a8,#3e26a8,#3e26a8,#3e26a8,#3e26a8,#3e26a8,#3e26a8,#3e26a8,#3e26a8,#3e26a8,#3e26a8,#3e26a8,#3e26a8,#3e26a8,#3e26a8,#3e26a8,#3e26a8,#3e26a8,#3e26a8,#3e26a8,#3e26a8,#3e26a8,#3e26a8,#3e26a8,#3e26a8,#3e26a8,#3e26a8,#3e26a8,#3e26a8,#3e26a8,#3e26a8,#3e26a8,#3e26a8,#3e26a8,#3e26a8,#3e26a8,#402ab4,#402ab4,#402ab4,#402ab4,#402ab4,#402ab4,#402ab4,#402ab4,#402ab4,#402ab4,#422ec0,#422ec0,#422ec0,#422ec0,#422ec0,#422ec0,#422ec0,#422ec0,#422ec0,#422ec0,#422ec0,#422ec0,#422ec0,#422ec0,#422ec0,#422ec0,#422ec0,#422ec0,#422ec0,#422ec0,#422ec0,#422ec0,#422ec0,#422ec0,#422ec0,#422ec0,#422ec0,#422ec0,#422ec0,#422ec0,#402ab4,#402ab4,#402ab4,#402ab4,#402ab4,#402ab4,#402ab4,#402ab4,#402ab4,#402ab4,#3e26a8,#3e26a8,#3e26a8,#3e26a8,#3e26a8,#3e26a8,#3e26a8,#3e26a8,#3e26a8,#3e26a8,#3e26a8)"></div>
<div class="r" style="top:477.57px;height:23.04px;background:linear-gradient(90deg,#3e26a8,#3e26a8,#3e26a8,#3e26a8,#402ab4,#402ab4,#402ab4,#402ab4,#402ab4,#402ab4,#402ab4,#402ab4,#422ec0,#422ec0,#422ec0,#422ec0,#422ec0,#422ec0,#4332cb,#4332cb,#4332cb,#4332cb,#4332cb,#4332cb,#4332cb,#4537d5,#4537d5,#4537d5,#4537d5,#4537d5,#4537d5,#4537d5,#4537d5,#4537d5,#4537d5,#463cde,#463cde,#4537d5,#4537d5,#4537d5,#4537d5,#4537d5,#4537d5,#4537d5,#4537d5,#4537d5,#4537d5,#4537d5,#4332cb,#4332cb,#4332cb,#4332cb,#4332cb,#422ec0,#422ec0,#422ec0,#422ec0,#422ec0,#402ab4,#402ab4,#402ab4,#402ab4,#402ab4,#402ab4,#402ab4,#402ab4,#3e26a8,#3e26a8,#3e26a8,#3e26a8,#3e26a8,#3e26a8,#3e26a8,#402ab4,#402ab4,#402ab4,#402ab4,#402ab4,#402ab4,#402ab4,#422ec0,#422ec0,#422ec0,#422ec0,#4332cb,#4332cb,#4332cb,#4332cb,#4332cb,#4537d5,#4537d5,#4537d5,#4537d5,#4537d5,#463cde,#463cde,#463cde,#463cde,#463cde,#463cde,#463cde,#463cde,#463cde,#463cde,#463cde,#463cde,#463cde,#463cde,#463cde,#463cde,#463cde,#463cde,#463cde,#4537d5,#4537d5,#4537d5,#4537d5,#4537d5,#4332cb,#4332cb,#4332cb,#4332cb,#4332cb,#422ec0,#422ec0,#422ec0,#422ec0,#422ec0,#422ec0,#402ab4,#402ab4,#402ab4,#402ab4,#402ab4,#402ab4,#402ab4,#402ab4,#3e26a8,#3e26a8,#3e26a8,#3e26a8,#3e26a8,#3e26a8,#3e26a8,#3e26a8,#3e26a8,#3e26a8,#3e26a8,#3e26a8,#3e26a8,#3e26a8,#3e26a8,#3e26a8,#3e26a8,#3e26a8,#3e26a8,#3e26a8,#3e26a8,#3e26a8,#3e26a8,#3e26a8,#3e26a8,#3e26a8,#3e26a8,#3e26a8,#3e26a8,#3e26a8,#3e26a8,#3e26a8,#3e26a8,#3e26a8,#3e26a8,#3e26a8,#3e26a8,#3e26a8,#3e26a8,#3e26a8,#3e26a8,#3e26a8,#3e26a8,#3e26a8,#3e26a8,#3e26a8,#3e26a8,#3e26a8,#3e26a8,#3e26a8,#3e26a8,#3e26a8,#402ab4,#402ab4,#402ab4,#402ab4,#402ab4,#402ab4,#402ab4,#402ab4,#402ab4,#402ab4,#402ab4,#402ab4,#402ab4,#402ab4,#402ab4,#402ab4,#402ab4,#422ec0,#422ec0,#422ec0,#422ec0,#422ec0,#422ec0,#422ec0,#422ec0,#422ec0,#422ec0,#422ec0,#402ab4,#402ab4,#402ab4,#402ab4,#402ab4,#402ab4,#402ab4,#402ab4,#402ab4,#402ab4,#402ab4,#402ab4,#402ab4,#402ab4,#402ab4,#402ab4,#402ab4,#3e26a8,#3e26a8,#3e26a8,#3e26a8,#3e26a8,#3e26a8,#3e26a8,#3e26a8,#3e26a8,#3e26a8,#3e26a8,#3e26a8,#3e26a8,#3e26a8,#3e26a8,#3e26a8,#3e26a8,#3e26a8,#3e26a8,#3e26a8,#3e26a8,#3e26a8,#3e26a8,#3e26a8,#3e26a8,#3e26a8,#3e26a8,#3e26a8,#3e26a8,#3e26a8,#3e26a8,#3e26a8,#3e26a8,#3e26a8,#3e26a8,#3e26a8,#3e26a8,#3e26a8,#3e26a8,#3e26a8,#3e26a8,#3e26a8,#3e26a8,#3e26a8,#3e26a8,#3e26a8,#3e26a8,#3e26a8,#3e26a8,#3e26a8,#3e26a8,#3e26a8,#3e26a8,#3e26a8,#3e26a8,#3e26a8,#402ab4,#402ab4,#402ab4,#402ab4,#402ab4,#402ab4,#402ab4,#402ab4,#402ab4,#402ab4,#402ab4,#402ab4,#422ec0,#422ec0,#422ec0,#422ec0,#422ec0,#422ec0,#422ec0,#422ec0,#422ec0,#422ec0,#422ec0,#422ec0,#422ec0,#422ec0,#422ec0,#422ec0,#422ec0,#422ec0,#422ec0,#422ec0,#422ec0,#422ec0,#422ec0,#422ec0,#422ec0,#422ec0,#422ec0,#422ec0,#402ab4,#402ab4,#402ab4,#402ab4,#402ab4,#402ab4,#402ab4,#402ab4,#402ab4,#402ab4,#402ab4,#402ab4,#3e26a8,#3e26a8,#3e26a8,#3e26a8,#3e26a8,#3e26a8,#3e26a8,#3e26a8,#3e26a8,#3e26a8)"></div>
<div class="r" style="top:500.32px;height:23.04px;background:linear-gradient(90deg,#3e26a8,#3e26a8,#3e26a8,#3e26a8,#402ab4,#402ab4,#402ab4,#402ab4,#402ab4,#402ab4,#402ab4,#402ab4,#402ab4,#402ab4,#422ec0,#422ec0,#422ec0,#422ec0,#422ec0,#422ec0,#422ec0,#422ec0,#422ec0,#422ec0,#4332cb,#4332cb,#4332cb,#4332cb,#4332cb,#4332cb,#4332cb,#4332cb,#4332cb,#4332cb,#4332cb,#4332cb,#4332cb,#4332cb,#4332cb,#4332cb,#4332cb,#4332cb,#4332cb,#4332cb,#4332cb,#422ec0,#422ec0,#422ec0,#422ec0,#422ec0,#422ec0,#422ec0,#422ec0,#402ab4,#402ab4,#402ab4,#402ab4,#402ab4,#402ab4,#402ab4,#402ab4,#3e26a8,#3e26a8,#3e26a8,#3e26a8,#3e26a8,#3e26a8,#3e26a8,#3e26a8,#3e26a8,#3e26a8,#3e26a8,#3e26a8,#3e26a8,#3e26a8,#402ab4,#402ab4,#402ab4,#402ab4,#402ab4,#402ab4,#402ab4,#422ec0,#422ec0,#422ec0,#422ec0,#422ec0,#422ec0,#422ec0,#4332cb,#4332cb,#4332cb,#4332cb,#4332cb,#4332cb,#4332cb,#4332cb,#4537d5,#4537d5,#4537d5,#4537d5,#4537d5,#4537d5,#4537d5,#4537d5,#4537d5,#4537d5,#4537d5,#4537d5,#4537d5,#4537d5,#4537d5,#4332cb,#4332cb,#4332cb,#4332cb,#4332cb,#4332cb,#4332cb,#4332cb,#4332cb,#422ec0,#422ec0,#422ec0,#422ec0,#422ec0,#422ec0,#422ec0,#402ab4,#402ab4,#402ab4,#402ab4,#402ab4,#402ab4,#402ab4,#402ab4,#402ab4,#3e26a8,#3e26a8,#3e26a8,#3e26a8,#3e26a8,#3e26a8,#3e26a8,#3e26a8,#3e26a8,#3e26a8,#3e26a8,#3e26a8,#3e26a8,#3e26a8,#3e26a8,#3e26a8,#3e26a8,#3e26a8,#3e26a8,#3e26a8,#3e26a8,#3e26a8,#3e26a8,#3e26a8,#3e26a8,#3e26a8,#3e26a8,#3e26a8,#3e26a8,#3e26a8,#3e26a8,#3e26a8,#3e26a8,#3e26a8,#3e26a8,#3e26a8,#3e26a8,#3e26a8,#3e26a8,#3e26a8,#3e26a8,#3e26a8,#3e26a8,#3e26a8,#3e26a8,#3e26a8,#3e26a8,#3e26a8,#3e26a8,#3e26a8,#3e26a8,#3e26a8,#402ab4,#402ab4,#402ab4,#402ab4,#402ab4,#402ab4,#402ab4,#402ab4,#402ab4,#402ab4,#402ab4,#402ab4,#402ab4,#402ab4,#402ab4,#402ab4,#402ab4,#402ab4,#402ab4,#402ab4,#402ab4,#402ab4,#402ab4,#402ab4,#402ab4,#402ab4,#402ab4,#402ab4,#402ab4,#402ab4,#402ab4,#402ab4,#402ab4,#402ab4,#402ab4,#402ab4,#402ab4,#402ab4,#402ab4,#402ab4,#402ab4,#402ab4,#402ab4,#402ab4,#402ab4,#3e26a8,#3e26a8,#3e26a8,#3e26a8,#3e26a8,#3e26a8,#3e26a8,#3e26a8,#3e26a8,#3e26a8,#3e26a8,#3e26a8,#3e26a8,#3e26a8,#3e26a8,#3e26a8,#3e26a8,#3e26a8,#3e26a8,#3e26a8,#3e26a8,#3e26a8,#3e26a8,#3e26a8,#3e26a8,#3e26a8,#3e26a8,#3e26a8,#3e26a8,#3e26a8,#3e26a8,#3e26a8,#3e26a8,#3e26a8,#3e26a8,#3e26a8,#3e26a8,#3e26a8,#3e26a8,#3e26a8,#3e26a8,#3e26a8,#3e26a8,#3e26a8,#3e26a8,#3e26a8,#3e26a8,#3e26a8,#3e26a8,#3e26a8,#3e26a8,#3e26a8,#3e26a8,#3e26a8,#3e26a8,#402ab4,#402ab4,#402ab4,#402ab4,#402ab4,#402ab4,#402ab4,#402ab4,#402ab4,#402ab4,#402ab4,#402ab4,#402ab4,#402ab4,#402ab4,#422ec0,#422ec0,#422ec0,#422ec0,#422ec0,#422ec0,#422ec0,#422ec0,#422ec0,#422ec0,#422ec0,#422ec0,#422ec0,#422ec0,#422ec0,#422ec0,#422ec0,#422ec0,#422ec0,#422ec0,#422ec0,#422ec0,#422ec0,#422ec0,#402ab4,#402ab4,#402ab4,#402ab4,#402ab4,#402ab4,#402ab4,#402ab4,#402ab4,#402ab4,#402ab4,#402ab4,#402ab4,#402ab4,#3e26a8,#3e26a8,#3e26a8,#3e26a8,#3e26a8,#3e26a8,#3e26a8,#3e26a8,#3e26a8,#3e26a8)"></div>
<div class="r" style="top:523.06px;height:23.04px;background:linear-gradient(90deg,#3e26a8,#3e26a8,#3e26a8,#3e26a8,#3e26a8,#402ab4,#402ab4,#402ab4,#402ab4,#402ab4,#402ab4,#402ab4,#402ab4,#402ab4,#402ab4,#402ab4,#402ab4,#402ab4,#422ec0,#422ec0,#422ec0,#422ec0,#422ec0,#422ec0,#422ec0,#422ec0,#422ec0,#422ec0,#422ec0,#422ec0,#422ec0,#422ec0,#422ec0,#422ec0,#422ec0,#422ec0,#422ec0,#422ec0,#422ec0,#422ec0,#422ec0,#422ec0,#422ec0,#422ec0,#422ec0,#422ec0,#422ec0,#422ec0,#422ec0,#422ec0,#402ab4,#402ab4,#402ab4,#402ab4,#402ab4,#402ab4,#402ab4,#402ab4,#402ab4,#402ab4,#402ab4,#402ab4,#402ab4,#402ab4,#3e26a8,#3e26a8,#3e26a8,#3e26a8,#3e26a8,#3e26a8,#3e26a8,#3e26a8,#402ab4,#402ab4,#402ab4,#402ab4,#402ab4,#402ab4,#402ab4,#402ab4,#402ab4,#402ab4,#402ab4,#422ec0,#422ec0,#422ec0,#422ec0,#422ec0,#422ec0,#422ec0,#422ec0,#422ec0,#422ec0,#422ec0,#4332cb,#4332cb,#4332cb,#4332cb,#4332cb,#4332cb,#4332cb,#4332cb,#4332cb,#4332cb,#4332cb,#4332cb,#4332cb,#4332cb,#4332cb,#4332cb,#4332cb,#4332cb,#4332cb,#4332cb,#4332cb,#4332cb,#422ec0,#422ec0,#422ec0,#422ec0,#422ec0,#422ec0,#422ec0,#422ec0,#422ec0,#422ec0,#422ec0,#402ab4,#402ab4,#402ab4,#402ab4,#402ab4,#402ab4,#402ab4,#402ab4,#402ab4,#402ab4,#3e26a8,#3e26a8,#3e26a8,#3e26a8,#3e26a8,#3e26a8,#3e26a8,#3e26a8,#3e26a8,#3e26a8,#3e26a8,#3e26a8,#3e26a8,#3e26a8,#3e26a8,#3e26a8,#3e26a8,#3e26a8,#3e26a8,#3e26a8,#3e26a8,#3e26a8,#3e26a8,#3e26a8,#3e26a8,#3e26a8,#3e26a8,#3e26a8,#3e26a8,#3e26a8,#3e26a8,#3e26a8,#3e26a8,#3e26a8,#3e26a8,#3e26a8,#3e26a8,#3e26a8,#3e26a8,#3e26a8,#3e26a8,#3e26a8,#3e26a8,#3e26a8,#3e26a8,#3e26a8,#3e26a8,#3e26a8,#3e26a8,#3e26a8,#3e26a8,#3e26a8,#3e26a8,#402ab4,#402ab4,#402ab4,#402ab4,#402ab4,#402ab4,#402ab4,#402ab4,#402ab4,#402ab4,#402ab4,#402ab4,#402ab4,#402ab4,#402ab4,#402ab4,#402ab4,#402ab4,#402ab4,#402ab4,#402ab4,#402ab4,#402ab4,#402ab4,#402ab4,#402ab4,#402ab4,#402ab4,#402ab4,#402ab4,#402ab4,#402ab4,#402ab4,#402ab4,#402ab4,#402ab4,#402ab4,#402ab4,#402ab4,#402ab4,#402ab4,#402ab4,#402ab4,#402ab4,#3e26a8,#3e26a8,#3e26a8,#3e26a8,#3e26a8,#3e26a8,#3e26a8,#3e26a8,#3e26a8,#3e26a8,#3e26a8,#3e26a8,#3e26a8,#3e26a8,#3e26a8,#3e26a8,#3e26a8,#3e26a8,#3e26a8,#3e26a8,#3e26a8,#3e26a8,#3e26a8,#3e26a8,#3e26a8,#3e26a8,#3e26a8,#3e26a8,#3e26a8,#3e26a8,#3e26a8,#3e26a8,#3e26a8,#3e26a8,#3e26a8,#3e26a8,#3e26a8,#3e26a8,#3e26a8,#3e26a8,#3e26a8,#3e26a8,#3e26a8,#3e26a8,#3e26a8,#3e26a8,#3e26a8,#3e26a8,#3e26a8,#3e26a8,#3e26a8,#3e26a8,#3e26a8,#3e26a8,#3e26a8,#402ab4,#402ab4,#402ab4,#402ab4,#402ab4,#402ab4,#402ab4,#402ab4,#402ab4,#402ab4,#402ab4,#402ab4,#402ab4,#402ab4,#402ab4,#402ab4,#402ab4,#422ec0,#422ec0,#422ec0,#422ec0,#422ec0,#422ec0,#422ec0,#422ec0,#422ec0,#422ec0,#422ec0,#422ec0,#422ec0,#422ec0,#422ec0,#422ec0,#422ec0,#422ec0,#422ec0,#402ab4,#402ab4,#402ab4,#402ab4,#402ab4,#402ab4,#402ab4,#402ab4,#402ab4,#402ab4,#402ab4,#402ab4,#402ab4,#402ab4,#402ab4,#402ab4,#402ab4,#402ab4,#3e26a8,#3e26a8,#3e26a8,#3e26a8,#3e26a8,#3e26a8,#3e26a8,#3e26a8,#3e26a8)"></div>
</div>
<svg width="800" height="666" viewBox="0 0 800 666">
<polygon points="92.0,34.5 103.1,34.5 103.4,43.8 103.7,53.0 104.0,62.3 104.4,71.5 104.7,80.8 105.1,90.0 105.4,99.3 105.8,108.5 106.2,117.8 106.5,127.0 106.9,136.3 107.4,145.5 107.8,154.8 108.2,164.0 108.7,173.3 109.1,182.5 109.6,191.8 110.1,201.0 110.5,210.3 111.1,219.5 111.6,228.8 112.1,238.0 112.7,247.3 113.2,256.5 113.8,265.8 114.4,275.0 115.0,284.3 115.6,293.5 116.3,302.8 117.0,312.0 117.6,321.3 118.3,330.5 119.1,339.8 119.8,349.0 120.6,358.3 121.3,367.5 122.1,376.8 123.0,386.0 123.8,395.3 124.7,404.5 125.6,413.8 126.5,423.0 127.4,432.3 128.4,441.5 129.4,450.8 130.4,460.0 131.5,469.3 132.6,478.5 133.7,487.8 134.8,497.0 136.0,506.3 137.2,515.5 138.4,524.8 139.7,534.0 141.0,543.3 142.3,552.5 143.7,561.8 145.1,571.0 146.6,580.3 92.0,580.3" fill="rgba(128,128,128,0.8)"/>
<polygon points="795.0,34.5 782.4,34.5 782.1,43.8 781.8,53.0 781.5,62.3 781.1,71.5 780.8,80.8 780.4,90.0 780.1,99.3 779.7,108.5 779.3,117.8 779.0,127.0 778.6,136.3 778.1,145.5 777.7,154.8 777.3,164.0 776.8,173.3 776.4,182.5 775.9,191.8 775.4,201.0 775.0,210.3 774.4,219.5 773.9,228.8 773.4,238.0 772.8,247.3 772.3,256.5 771.7,265.8 771.1,275.0 770.5,284.3 769.9,293.5 769.2,302.8 768.5,312.0 767.9,321.3 767.2,330.5 766.4,339.8 765.7,349.0 764.9,358.3 764.2,367.5 763.4,376.8 762.5,386.0 761.7,395.3 760.8,404.5 759.9,413.8 759.0,423.0 758.1,432.3 757.1,441.5 756.1,450.8 755.1,460.0 754.0,469.3 752.9,478.5 751.8,487.8 750.7,497.0 749.5,506.3 748.3,515.5 747.1,524.8 745.8,534.0 744.5,543.3 743.2,552.5 741.8,561.8 740.4,571.0 738.9,580.3 795.0,580.3" fill="rgba(128,128,128,0.8)"/>
<polyline points="103.1,34.5 103.4,43.8 103.7,53.0 104.0,62.3 104.4,71.5 104.7,80.8 105.1,90.0 105.4,99.3 105.8,108.5 106.2,117.8 106.5,127.0 106.9,136.3 107.4,145.5 107.8,154.8 108.2,164.0 108.7,173.3 109.1,182.5 109.6,191.8 110.1,201.0 110.5,210.3 111.1,219.5 111.6,228.8 112.1,238.0 112.7,247.3 113.2,256.5 113.8,265.8 114.4,275.0 115.0,284.3 115.6,293.5 116.3,302.8 117.0,312.0 117.6,321.3 118.3,330.5 119.1,339.8 119.8,349.0 120.6,358.3 121.3,367.5 122.1,376.8 123.0,386.0 123.8,395.3 124.7,404.5 125.6,413.8 126.5,423.0 127.4,432.3 128.4,441.5 129.4,450.8 130.4,460.0 131.5,469.3 132.6,478.5 133.7,487.8 134.8,497.0 136.0,506.3 137.2,515.5 138.4,524.8 139.7,534.0 141.0,543.3 142.3,552.5 143.7,561.8 145.1,571.0 146.6,580.3" fill="none" stroke="#fff" stroke-width="2.6" stroke-dasharray="12.6,13.4" stroke-dashoffset="9.3"/>
<polyline points="782.4,34.5 782.1,43.8 781.8,53.0 781.5,62.3 781.1,71.5 780.8,80.8 780.4,90.0 780.1,99.3 779.7,108.5 779.3,117.8 779.0,127.0 778.6,136.3 778.1,145.5 777.7,154.8 777.3,164.0 776.8,173.3 776.4,182.5 775.9,191.8 775.4,201.0 775.0,210.3 774.4,219.5 773.9,228.8 773.4,238.0 772.8,247.3 772.3,256.5 771.7,265.8 771.1,275.0 770.5,284.3 769.9,293.5 769.2,302.8 768.5,312.0 767.9,321.3 767.2,330.5 766.4,339.8 765.7,349.0 764.9,358.3 764.2,367.5 763.4,376.8 762.5,386.0 761.7,395.3 760.8,404.5 759.9,413.8 759.0,423.0 758.1,432.3 757.1,441.5 756.1,450.8 755.1,460.0 754.0,469.3 752.9,478.5 751.8,487.8 750.7,497.0 749.5,506.3 748.3,515.5 747.1,524.8 745.8,534.0 744.5,543.3 743.2,552.5 741.8,561.8 740.4,571.0 738.9,580.3" fill="none" stroke="#fff" stroke-width="2.6" stroke-dasharray="12.6,13.4" stroke-dashoffset="9.3"/>
<g>
<line x1="92.0" y1="553.52" x2="95.2" y2="553.52"/>
<line x1="92.0" y1="523.69" x2="95.2" y2="523.69"/>
<line x1="92.0" y1="496.26" x2="95.2" y2="496.26"/>
<line x1="92.0" y1="470.85" x2="95.2" y2="470.85"/>
<line x1="92.0" y1="447.20" x2="99.0" y2="447.20"/>
<line x1="92.0" y1="425.08" x2="95.2" y2="425.08"/>
<line x1="92.0" y1="404.30" x2="95.2" y2="404.30"/>
<line x1="92.0" y1="384.71" x2="95.2" y2="384.71"/>
<line x1="92.0" y1="366.17" x2="95.2" y2="366.17"/>
<line x1="92.0" y1="348.59" x2="99.0" y2="348.59"/>
<line x1="92.0" y1="331.87" x2="95.2" y2="331.87"/>
<line x1="92.0" y1="315.92" x2="95.2" y2="315.92"/>
<line x1="92.0" y1="300.68" x2="95.2" y2="300.68"/>
<line x1="92.0" y1="286.09" x2="95.2" y2="286.09"/>
<line x1="92.0" y1="272.10" x2="99.0" y2="272.10"/>
<line x1="92.0" y1="258.66" x2="95.2" y2="258.66"/>
<line x1="92.0" y1="245.72" x2="95.2" y2="245.72"/>
<line x1="92.0" y1="233.25" x2="95.2" y2="233.25"/>
<line x1="92.0" y1="221.22" x2="95.2" y2="221.22"/>
<line x1="92.0" y1="209.60" x2="99.0" y2="209.60"/>
<line x1="92.0" y1="198.36" x2="95.2" y2="198.36"/>
<line x1="92.0" y1="187.48" x2="95.2" y2="187.48"/>
<line x1="92.0" y1="176.93" x2="95.2" y2="176.93"/>
<line x1="92.0" y1="166.70" x2="95.2" y2="166.70"/>
<line x1="92.0" y1="156.76" x2="99.0" y2="156.76"/>
<line x1="92.0" y1="147.11" x2="95.2" y2="147.11"/>
<line x1="92.0" y1="137.71" x2="95.2" y2="137.71"/>
<line x1="92.0" y1="128.57" x2="95.2" y2="128.57"/>
<line x1="92.0" y1="119.67" x2="95.2" y2="119.67"/>
<line x1="92.0" y1="110.99" x2="99.0" y2="110.99"/>
<line x1="92.0" y1="102.53" x2="95.2" y2="102.53"/>
<line x1="92.0" y1="94.27" x2="95.2" y2="94.27"/>
<line x1="92.0" y1="86.20" x2="95.2" y2="86.20"/>
<line x1="92.0" y1="78.32" x2="95.2" y2="78.32"/>
<line x1="92.0" y1="70.62" x2="99.0" y2="70.62"/>
<line x1="92.0" y1="63.08" x2="95.2" y2="63.08"/>
<line x1="92.0" y1="55.71" x2="95.2" y2="55.71"/>
<line x1="92.0" y1="48.49" x2="95.2" y2="48.49"/>
<line x1="92.0" y1="41.43" x2="95.2" y2="41.43"/>
<line x1="92.0" y1="34.50" x2="99.0" y2="34.50"/>
<line x1="92.00" y1="580.3" x2="92.00" y2="573.3"/>
<line x1="231.20" y1="580.3" x2="231.20" y2="573.3"/>
<line x1="372.70" y1="580.3" x2="372.70" y2="573.3"/>
<line x1="513.60" y1="580.3" x2="513.60" y2="573.3"/>
<line x1="654.60" y1="580.3" x2="654.60" y2="573.3"/>
<line x1="794.60" y1="580.3" x2="794.60" y2="573.3"/>
<line x1="92.0" y1="34.5" x2="92.0" y2="581.1" style="stroke-width:1.4"/>
<line x1="91.2" y1="580.3" x2="795.0" y2="580.3" style="stroke-width:1.4"/>
</g>
<text x="443.5" y="22.5" text-anchor="middle">Magnitude Scalogram</text>
<text x="443" y="659" text-anchor="middle">Time (secs)</text>
<text transform="translate(24.2,307.3) rotate(-90)" text-anchor="middle">Frequency (Hz)</text>
<text x="36.3" y="44.9">100</text>
<text x="42.4" y="81.0">90</text>
<text x="42.4" y="121.4">80</text>
<text x="42.4" y="167.2">70</text>
<text x="42.4" y="220.0">60</text>
<text x="42.4" y="282.5">50</text>
<text x="42.4" y="359.0">40</text>
<text x="42.4" y="457.6">30</text>
<text x="90.4" y="620.4" text-anchor="middle">0</text>
<text x="232.0" y="620.4" text-anchor="middle">0.2</text>
<text x="372.7" y="620.4" text-anchor="middle">0.4</text>
<text x="513.4" y="620.4" text-anchor="middle">0.6</text>
<text x="653.8" y="620.4" text-anchor="middle">0.8</text>
<text x="795.4" y="620.4" text-anchor="middle">1</text>
</svg>
</body></html>
